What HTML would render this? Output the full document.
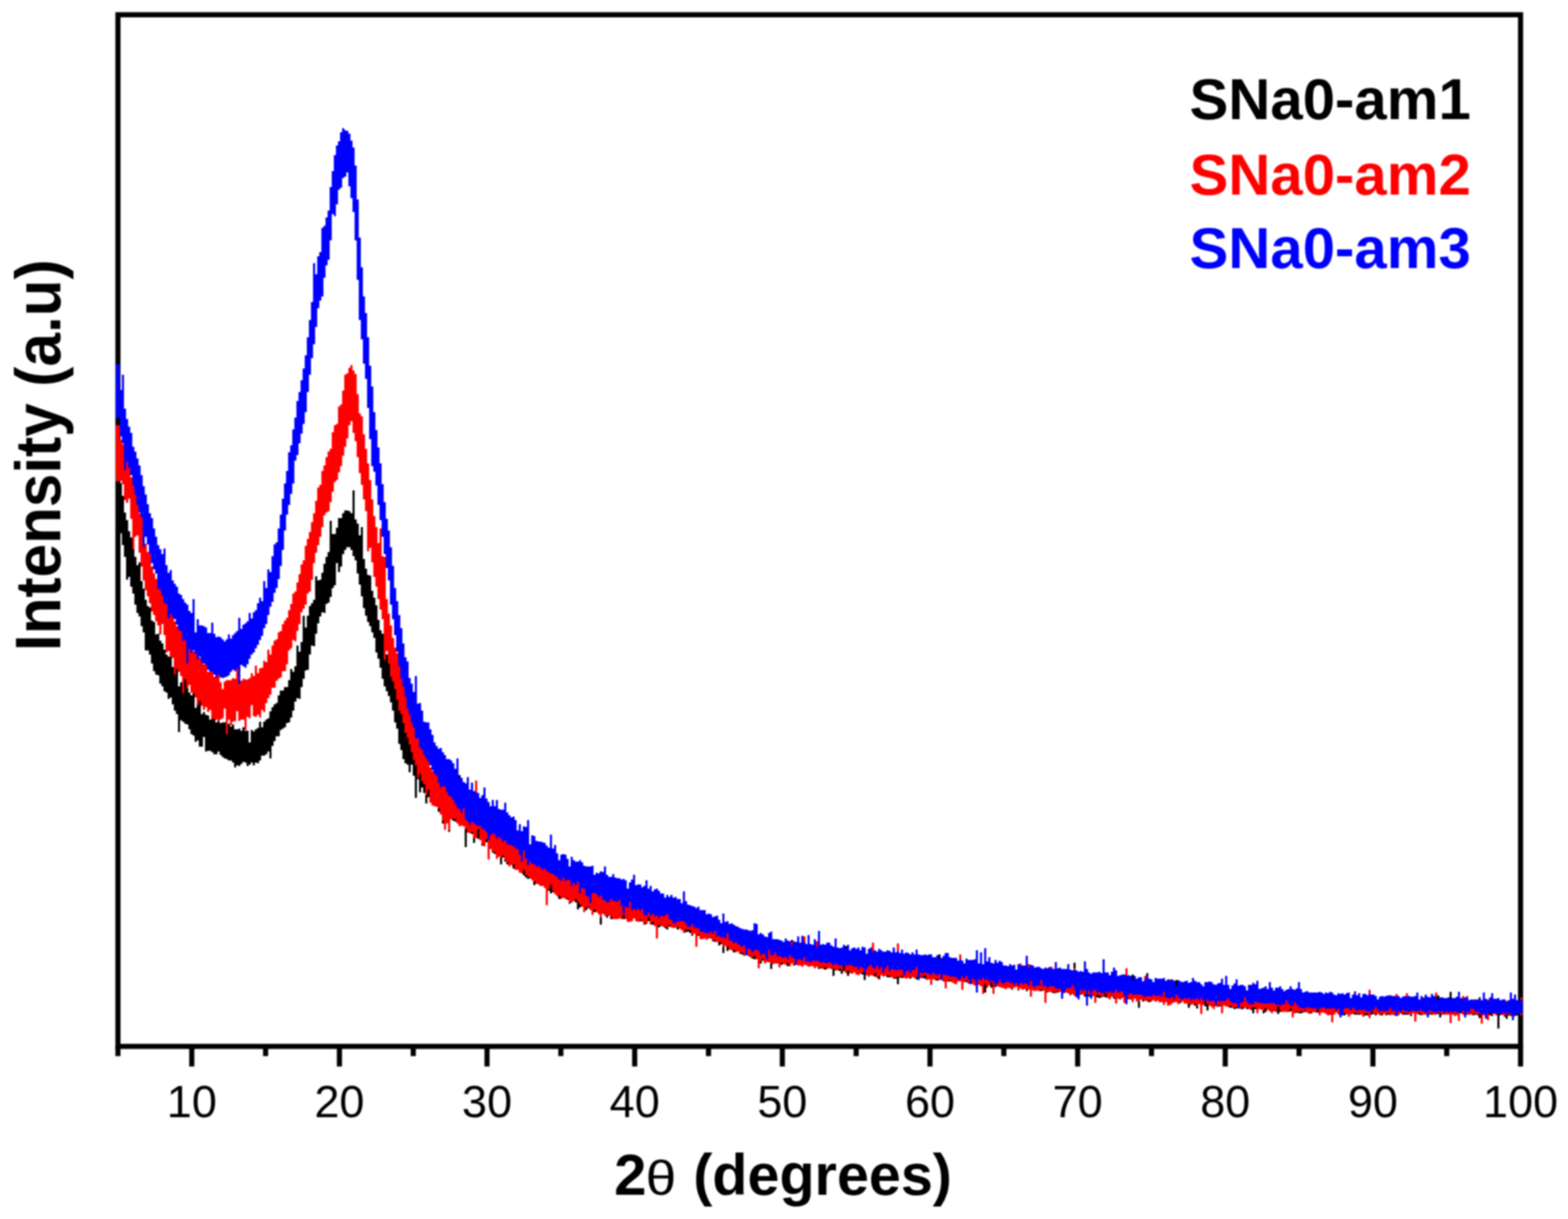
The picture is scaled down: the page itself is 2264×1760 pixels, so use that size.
<!DOCTYPE html>
<html><head><meta charset="utf-8"><title>XRD</title>
<style>
html,body{margin:0;padding:0;background:#fff;}
svg{display:block;filter:blur(1px);}
.t{font-family:"Liberation Sans",Arial,sans-serif;}
</style></head>
<body>
<svg width="2264" height="1760" viewBox="0 0 2264 1760">
<rect width="2264" height="1760" fill="#fff"/>
<rect x="170.3" y="21.3" width="2025.2" height="1489.5" fill="none" stroke="#000" stroke-width="7.4"/>
<g stroke="#000" stroke-width="7.4"><line x1="170.3" y1="1510.8" x2="170.3" y2="1524.8"/><line x1="276.9" y1="1510.8" x2="276.9" y2="1539.8"/><line x1="383.5" y1="1510.8" x2="383.5" y2="1524.8"/><line x1="490.1" y1="1510.8" x2="490.1" y2="1539.8"/><line x1="596.7" y1="1510.8" x2="596.7" y2="1524.8"/><line x1="703.2" y1="1510.8" x2="703.2" y2="1539.8"/><line x1="809.8" y1="1510.8" x2="809.8" y2="1524.8"/><line x1="916.4" y1="1510.8" x2="916.4" y2="1539.8"/><line x1="1023.0" y1="1510.8" x2="1023.0" y2="1524.8"/><line x1="1129.6" y1="1510.8" x2="1129.6" y2="1539.8"/><line x1="1236.2" y1="1510.8" x2="1236.2" y2="1524.8"/><line x1="1342.8" y1="1510.8" x2="1342.8" y2="1539.8"/><line x1="1449.4" y1="1510.8" x2="1449.4" y2="1524.8"/><line x1="1556.0" y1="1510.8" x2="1556.0" y2="1539.8"/><line x1="1662.6" y1="1510.8" x2="1662.6" y2="1524.8"/><line x1="1769.1" y1="1510.8" x2="1769.1" y2="1539.8"/><line x1="1875.7" y1="1510.8" x2="1875.7" y2="1524.8"/><line x1="1982.3" y1="1510.8" x2="1982.3" y2="1539.8"/><line x1="2088.9" y1="1510.8" x2="2088.9" y2="1524.8"/><line x1="2195.5" y1="1510.8" x2="2195.5" y2="1539.8"/></g>
<g shape-rendering="crispEdges">
<path fill="#000" d="M167.0 628.3h6.3V756.0h-6.3zM173.3 697.7h3.0V770.3h-3.0zM176.3 716.3h3.0V786.7h-3.0zM179.3 739.9h3.0V804.1h-3.0zM182.3 751.2h3.0V837.4h-3.0zM185.3 766.9h3.0V832.8h-3.0zM188.3 776.1h3.0V847.0h-3.0zM191.3 791.9h3.0V857.1h-3.0zM194.3 803.7h3.0V872.6h-3.0zM197.3 815.7h3.0V884.7h-3.0zM200.3 812.3h3.0V889.8h-3.0zM203.3 838.9h3.0V904.0h-3.0zM206.3 849.8h3.0V913.3h-3.0zM209.3 866.2h3.0V939.0h-3.0zM212.3 875.0h3.0V938.8h-3.0zM215.3 877.1h3.0V945.2h-3.0zM218.3 896.2h3.0V958.0h-3.0zM221.3 897.7h3.0V969.1h-3.0zM224.3 915.5h3.0V974.3h-3.0zM227.3 914.6h3.0V975.1h-3.0zM230.3 925.3h3.0V986.9h-3.0zM233.3 928.7h3.0V991.0h-3.0zM236.3 937.5h3.0V997.5h-3.0zM239.3 944.7h3.0V1000.4h-3.0zM242.3 947.8h3.0V1009.1h-3.0zM245.3 941.9h3.0V1006.7h-3.0zM248.3 963.1h3.0V1017.3h-3.0zM251.3 967.8h3.0V1026.2h-3.0zM254.3 957.7h3.0V1031.0h-3.0zM257.3 990.9h3.0V1056.7h-3.0zM260.3 985.0h3.0V1040.4h-3.0zM263.3 989.4h3.0V1041.5h-3.0zM266.3 969.2h3.0V1044.6h-3.0zM269.3 988.6h3.0V1045.9h-3.0zM272.3 999.5h3.0V1053.1h-3.0zM275.3 1004.0h3.0V1060.1h-3.0zM278.3 996.7h3.0V1062.4h-3.0zM281.3 1021.5h3.0V1071.4h-3.0zM284.3 1016.1h3.0V1069.2h-3.0zM287.3 1011.6h3.0V1077.5h-3.0zM290.3 1030.6h3.0V1078.2h-3.0zM293.3 1027.5h3.0V1063.7h-3.0zM296.3 1031.5h3.0V1084.6h-3.0zM299.3 1033.0h3.0V1084.0h-3.0zM302.3 1039.0h3.0V1083.7h-3.0zM305.3 1034.4h3.0V1086.4h-3.0zM308.3 1033.9h3.0V1088.6h-3.0zM311.3 1042.5h3.0V1088.7h-3.0zM314.3 1019.0h3.0V1085.3h-3.0zM317.3 1043.9h3.0V1090.2h-3.0zM320.3 1042.8h3.0V1092.9h-3.0zM323.3 1043.4h3.0V1095.4h-3.0zM326.3 1044.4h3.0V1096.0h-3.0zM329.3 1045.3h3.0V1098.2h-3.0zM332.3 1049.0h3.0V1097.6h-3.0zM335.3 1046.2h3.0V1100.6h-3.0zM338.3 1053.0h3.0V1108.4h-3.0zM341.3 1053.0h3.0V1104.7h-3.0zM344.3 1052.1h3.0V1106.4h-3.0zM347.3 1054.7h3.0V1102.5h-3.0zM350.3 1049.7h3.0V1100.1h-3.0zM353.3 1054.9h3.0V1100.5h-3.0zM356.3 1055.1h3.0V1106.1h-3.0zM359.3 1071.7h3.0V1104.3h-3.0zM362.3 1054.0h3.0V1100.8h-3.0zM365.3 1055.6h3.0V1105.1h-3.0zM368.3 1052.6h3.0V1100.9h-3.0zM371.3 1051.2h3.0V1102.1h-3.0zM374.3 1042.4h3.0V1098.4h-3.0zM377.3 1049.7h3.0V1091.0h-3.0zM380.3 1042.2h3.0V1091.4h-3.0zM383.3 1038.9h3.0V1089.4h-3.0zM386.3 1036.7h3.0V1084.5h-3.0zM389.3 1026.8h3.0V1095.0h-3.0zM392.3 1020.6h3.0V1077.0h-3.0zM395.3 1016.8h3.0V1070.3h-3.0zM398.3 1014.5h3.0V1062.6h-3.0zM401.3 1003.5h3.0V1063.0h-3.0zM404.3 997.1h3.0V1054.3h-3.0zM407.3 997.1h3.0V1052.0h-3.0zM410.3 991.8h3.0V1050.2h-3.0zM413.3 992.1h3.0V1043.8h-3.0zM416.3 981.9h3.0V1042.7h-3.0zM419.3 965.6h3.0V1035.9h-3.0zM422.3 970.3h3.0V1025.5h-3.0zM425.3 962.2h3.0V1013.1h-3.0zM428.3 931.6h3.0V1007.7h-3.0zM431.3 941.3h3.0V1008.9h-3.0zM434.3 927.3h3.0V992.2h-3.0zM437.3 889.3h3.0V979.6h-3.0zM440.3 906.4h3.0V967.6h-3.0zM443.3 888.9h3.0V967.2h-3.0zM446.3 874.9h3.0V944.6h-3.0zM449.3 871.4h3.0V932.1h-3.0zM452.3 865.6h3.0V933.1h-3.0zM455.3 832.4h3.0V915.4h-3.0zM458.3 837.8h3.0V899.9h-3.0zM461.3 836.5h3.0V889.9h-3.0zM464.3 827.1h3.0V884.3h-3.0zM467.3 813.8h3.0V884.5h-3.0zM470.3 804.1h3.0V871.5h-3.0zM473.3 796.9h3.0V870.3h-3.0zM476.3 751.7h3.0V861.6h-3.0zM479.3 771.3h3.0V849.2h-3.0zM482.3 770.8h3.0V844.8h-3.0zM485.3 761.6h3.0V813.2h-3.0zM488.3 747.7h3.0V825.7h-3.0zM491.3 747.7h3.0V818.1h-3.0zM494.3 740.6h3.0V800.2h-3.0zM497.3 737.4h3.0V793.7h-3.0zM500.3 736.6h3.0V789.8h-3.0zM503.3 737.8h3.0V790.2h-3.0zM506.3 740.7h3.0V793.7h-3.0zM509.3 707.7h3.0V803.1h-3.0zM512.3 750.1h3.0V809.3h-3.0zM515.3 755.9h3.0V827.7h-3.0zM518.3 773.4h3.0V844.0h-3.0zM521.3 761.2h3.0V861.3h-3.0zM524.3 807.3h3.0V878.0h-3.0zM527.3 820.6h3.0V889.0h-3.0zM530.3 830.0h3.0V897.6h-3.0zM533.3 831.2h3.0V904.4h-3.0zM536.3 853.1h3.0V912.6h-3.0zM539.3 862.6h3.0V921.2h-3.0zM542.3 874.1h3.0V941.5h-3.0zM545.3 894.7h3.0V950.8h-3.0zM548.3 909.7h3.0V964.0h-3.0zM551.3 914.6h3.0V980.3h-3.0zM554.3 926.0h3.0V990.9h-3.0zM557.3 944.9h3.0V997.9h-3.0zM560.3 953.3h3.0V1004.6h-3.0zM563.3 960.2h3.0V1013.9h-3.0zM566.3 968.1h3.0V1026.1h-3.0zM569.3 979.8h3.0V1043.1h-3.0zM572.3 990.2h3.0V1051.7h-3.0zM575.3 1007.5h3.0V1074.3h-3.0zM578.3 1022.7h3.0V1082.5h-3.0zM581.3 1035.6h3.0V1095.8h-3.0zM584.3 1045.9h3.0V1101.8h-3.0zM587.3 1059.3h3.0V1103.6h-3.0zM590.3 1064.4h3.0V1115.1h-3.0zM593.3 1058.5h3.0V1104.4h-3.0zM596.3 1069.3h3.0V1120.4h-3.0zM599.3 1048.3h3.0V1152.0h-3.0zM602.3 1078.3h3.0V1124.9h-3.0zM605.3 1087.1h3.0V1143.9h-3.0zM608.3 1086.7h3.0V1137.2h-3.0zM611.3 1082.5h3.0V1144.5h-3.0zM614.3 1093.5h3.0V1159.9h-3.0zM617.3 1090.8h3.0V1150.6h-3.0zM620.3 1114.3h3.0V1153.6h-3.0zM623.3 1112.5h3.0V1160.6h-3.0zM626.3 1120.0h3.0V1163.9h-3.0zM629.3 1120.7h3.0V1165.3h-3.0zM632.3 1124.1h3.0V1171.7h-3.0zM635.3 1124.3h3.0V1171.6h-3.0zM638.3 1132.9h3.0V1188.5h-3.0zM641.3 1108.5h3.0V1173.6h-3.0zM644.3 1130.9h3.0V1179.1h-3.0zM647.3 1136.4h3.0V1200.5h-3.0zM650.3 1136.9h3.0V1182.5h-3.0zM653.3 1142.1h3.0V1184.8h-3.0zM656.3 1142.2h3.0V1185.5h-3.0zM659.3 1143.8h3.0V1187.8h-3.0zM662.3 1118.5h3.0V1189.5h-3.0zM665.3 1143.1h3.0V1184.6h-3.0zM668.3 1153.5h3.0V1191.1h-3.0zM671.3 1150.8h3.0V1223.3h-3.0zM674.3 1159.3h3.0V1199.3h-3.0zM677.3 1161.8h3.0V1199.8h-3.0zM680.3 1140.2h3.0V1203.5h-3.0zM683.3 1166.9h3.0V1216.6h-3.0zM686.3 1170.9h3.0V1207.3h-3.0zM689.3 1173.6h3.0V1211.4h-3.0zM692.3 1155.6h3.0V1212.1h-3.0zM695.3 1176.3h3.0V1221.4h-3.0zM698.3 1178.3h3.0V1221.8h-3.0zM701.3 1164.7h3.0V1215.8h-3.0zM704.3 1184.1h3.0V1223.8h-3.0zM707.3 1183.8h3.0V1224.4h-3.0zM710.3 1183.7h3.0V1231.1h-3.0zM713.3 1190.2h3.0V1233.3h-3.0zM716.3 1176.7h3.0V1232.9h-3.0zM719.3 1197.4h3.0V1234.9h-3.0zM722.3 1207.5h3.0V1247.6h-3.0zM725.3 1198.9h3.0V1238.4h-3.0zM728.3 1202.2h3.0V1243.7h-3.0zM731.3 1204.3h3.0V1247.6h-3.0zM734.3 1213.2h3.0V1246.0h-3.0zM737.3 1213.5h3.0V1248.6h-3.0zM740.3 1214.0h3.0V1253.6h-3.0zM743.3 1211.1h3.0V1255.3h-3.0zM746.3 1219.0h3.0V1255.6h-3.0zM749.3 1220.1h3.0V1258.4h-3.0zM752.3 1224.2h3.0V1259.0h-3.0zM755.3 1226.5h3.0V1264.2h-3.0zM758.3 1227.1h3.0V1266.9h-3.0zM761.3 1230.2h3.0V1269.3h-3.0zM764.3 1237.4h3.0V1268.0h-3.0zM767.3 1233.7h3.0V1270.3h-3.0zM770.3 1240.3h3.0V1278.3h-3.0zM773.3 1238.0h3.0V1273.1h-3.0zM776.3 1241.4h3.0V1277.1h-3.0zM779.3 1241.1h3.0V1279.1h-3.0zM782.3 1248.4h3.0V1277.7h-3.0zM785.3 1244.1h3.0V1282.0h-3.0zM788.3 1248.4h3.0V1284.4h-3.0zM791.3 1251.2h3.0V1285.5h-3.0zM794.3 1249.7h3.0V1289.5h-3.0zM797.3 1252.8h3.0V1288.4h-3.0zM800.3 1237.0h3.0V1289.8h-3.0zM803.3 1269.0h3.0V1292.6h-3.0zM806.3 1260.5h3.0V1298.1h-3.0zM809.3 1253.7h3.0V1293.9h-3.0zM812.3 1266.6h3.0V1295.9h-3.0zM815.3 1265.0h3.0V1295.7h-3.0zM818.3 1264.3h3.0V1299.1h-3.0zM821.3 1264.0h3.0V1305.4h-3.0zM824.3 1266.3h3.0V1302.6h-3.0zM827.3 1268.2h3.0V1293.2h-3.0zM830.3 1269.6h3.0V1302.9h-3.0zM833.3 1274.6h3.0V1312.7h-3.0zM836.3 1271.7h3.0V1309.7h-3.0zM839.3 1275.8h3.0V1309.2h-3.0zM842.3 1277.1h3.0V1309.1h-3.0zM845.3 1273.2h3.0V1313.7h-3.0zM848.3 1277.5h3.0V1310.6h-3.0zM851.3 1279.6h3.0V1310.9h-3.0zM854.3 1280.4h3.0V1307.0h-3.0zM857.3 1282.6h3.0V1317.1h-3.0zM860.3 1285.8h3.0V1317.4h-3.0zM863.3 1284.8h3.0V1315.5h-3.0zM866.3 1283.7h3.0V1334.5h-3.0zM869.3 1286.5h3.0V1319.3h-3.0zM872.3 1290.1h3.0V1322.1h-3.0zM875.3 1280.1h3.0V1324.7h-3.0zM878.3 1292.1h3.0V1322.1h-3.0zM881.3 1293.9h3.0V1326.5h-3.0zM884.3 1292.7h3.0V1322.9h-3.0zM887.3 1288.2h3.0V1322.6h-3.0zM890.3 1280.0h3.0V1323.4h-3.0zM893.3 1296.4h3.0V1325.1h-3.0zM896.3 1294.4h3.0V1326.4h-3.0zM899.3 1294.3h3.0V1326.5h-3.0zM902.3 1294.1h3.0V1325.9h-3.0zM905.3 1296.2h3.0V1324.5h-3.0zM908.3 1288.2h3.0V1328.1h-3.0zM911.3 1298.7h3.0V1328.7h-3.0zM914.3 1298.0h3.0V1326.0h-3.0zM917.3 1299.1h3.0V1329.4h-3.0zM920.3 1295.2h3.0V1328.5h-3.0zM923.3 1299.3h3.0V1330.2h-3.0zM926.3 1299.5h3.0V1329.4h-3.0zM929.3 1301.5h3.0V1334.7h-3.0zM932.3 1291.4h3.0V1333.6h-3.0zM935.3 1300.9h3.0V1329.9h-3.0zM938.3 1314.6h3.0V1329.6h-3.0zM941.3 1302.0h3.0V1335.3h-3.0zM944.3 1302.4h3.0V1325.1h-3.0zM947.3 1305.4h3.0V1335.7h-3.0zM950.3 1307.1h3.0V1339.3h-3.0zM953.3 1313.1h3.0V1336.7h-3.0zM956.3 1309.3h3.0V1336.1h-3.0zM959.3 1305.9h3.0V1340.3h-3.0zM962.3 1308.0h3.0V1341.8h-3.0zM965.3 1312.7h3.0V1337.8h-3.0zM968.3 1310.0h3.0V1337.9h-3.0zM971.3 1310.4h3.0V1339.7h-3.0zM974.3 1311.1h3.0V1338.5h-3.0zM977.3 1311.5h3.0V1342.0h-3.0zM980.3 1312.9h3.0V1341.2h-3.0zM983.3 1313.2h3.0V1341.6h-3.0zM986.3 1316.0h3.0V1344.5h-3.0zM989.3 1319.9h3.0V1345.5h-3.0zM992.3 1313.9h3.0V1345.0h-3.0zM995.3 1317.6h3.0V1346.6h-3.0zM998.3 1319.5h3.0V1351.3h-3.0zM1001.3 1312.4h3.0V1347.2h-3.0zM1004.3 1320.6h3.0V1342.7h-3.0zM1007.3 1315.7h3.0V1351.0h-3.0zM1010.3 1326.1h3.0V1351.7h-3.0zM1013.3 1327.8h3.0V1354.6h-3.0zM1016.3 1330.6h3.0V1354.0h-3.0zM1019.3 1328.7h3.0V1355.7h-3.0zM1022.3 1329.2h3.0V1355.4h-3.0zM1025.3 1319.8h3.0V1355.3h-3.0zM1028.3 1324.4h3.0V1358.8h-3.0zM1031.3 1338.9h3.0V1359.7h-3.0zM1034.3 1338.0h3.0V1359.7h-3.0zM1037.3 1335.5h3.0V1364.5h-3.0zM1040.3 1340.9h3.0V1362.5h-3.0zM1043.3 1331.7h3.0V1376.0h-3.0zM1046.3 1343.9h3.0V1366.0h-3.0zM1049.3 1345.9h3.0V1372.7h-3.0zM1052.3 1347.8h3.0V1367.9h-3.0zM1055.3 1345.5h3.0V1371.2h-3.0zM1058.3 1351.9h3.0V1374.5h-3.0zM1061.3 1351.8h3.0V1375.2h-3.0zM1064.3 1352.1h3.0V1373.7h-3.0zM1067.3 1353.0h3.0V1377.2h-3.0zM1070.3 1352.2h3.0V1377.7h-3.0zM1073.3 1352.9h3.0V1379.7h-3.0zM1076.3 1356.6h3.0V1378.0h-3.0zM1079.3 1355.8h3.0V1380.1h-3.0zM1082.3 1364.2h3.0V1381.9h-3.0zM1085.3 1359.2h3.0V1383.5h-3.0zM1088.3 1360.3h3.0V1385.0h-3.0zM1091.3 1360.7h3.0V1385.3h-3.0zM1094.3 1362.5h3.0V1386.7h-3.0zM1097.3 1363.8h3.0V1390.9h-3.0zM1100.3 1364.5h3.0V1387.2h-3.0zM1103.3 1365.1h3.0V1389.9h-3.0zM1106.3 1367.2h3.0V1388.6h-3.0zM1109.3 1368.7h3.0V1389.2h-3.0zM1112.3 1366.9h3.0V1399.4h-3.0zM1115.3 1366.6h3.0V1389.9h-3.0zM1118.3 1369.1h3.0V1390.9h-3.0zM1121.3 1369.8h3.0V1390.9h-3.0zM1124.3 1369.2h3.0V1390.6h-3.0zM1127.3 1369.9h3.0V1393.0h-3.0zM1130.3 1369.3h3.0V1390.3h-3.0zM1133.3 1369.5h3.0V1392.2h-3.0zM1136.3 1369.7h3.0V1394.7h-3.0zM1139.3 1359.2h3.0V1392.3h-3.0zM1142.3 1357.4h3.0V1385.8h-3.0zM1145.3 1368.3h3.0V1393.6h-3.0zM1148.3 1371.4h3.0V1393.3h-3.0zM1151.3 1372.0h3.0V1394.1h-3.0zM1154.3 1367.8h3.0V1393.0h-3.0zM1157.3 1371.6h3.0V1393.7h-3.0zM1160.3 1370.1h3.0V1393.3h-3.0zM1163.3 1369.3h3.0V1393.4h-3.0zM1166.3 1372.8h3.0V1396.2h-3.0zM1169.3 1371.7h3.0V1393.6h-3.0zM1172.3 1371.6h3.0V1392.4h-3.0zM1175.3 1374.3h3.0V1395.5h-3.0zM1178.3 1372.6h3.0V1396.0h-3.0zM1181.3 1373.8h3.0V1399.3h-3.0zM1184.3 1373.9h3.0V1397.6h-3.0zM1187.3 1375.3h3.0V1397.6h-3.0zM1190.3 1374.3h3.0V1399.6h-3.0zM1193.3 1373.3h3.0V1399.2h-3.0zM1196.3 1378.1h3.0V1396.8h-3.0zM1199.3 1375.4h3.0V1398.5h-3.0zM1202.3 1369.3h3.0V1408.8h-3.0zM1205.3 1377.7h3.0V1400.5h-3.0zM1208.3 1376.6h3.0V1394.3h-3.0zM1211.3 1377.0h3.0V1401.6h-3.0zM1214.3 1377.8h3.0V1406.2h-3.0zM1217.3 1379.5h3.0V1401.5h-3.0zM1220.3 1365.8h3.0V1403.8h-3.0zM1223.3 1380.3h3.0V1409.3h-3.0zM1226.3 1382.3h3.0V1404.7h-3.0zM1229.3 1382.7h3.0V1403.4h-3.0zM1232.3 1382.1h3.0V1403.7h-3.0zM1235.3 1383.2h3.0V1406.3h-3.0zM1238.3 1375.2h3.0V1406.4h-3.0zM1241.3 1384.6h3.0V1405.6h-3.0zM1244.3 1383.3h3.0V1407.1h-3.0zM1247.3 1385.8h3.0V1414.5h-3.0zM1250.3 1384.4h3.0V1407.9h-3.0zM1253.3 1386.6h3.0V1410.1h-3.0zM1256.3 1386.7h3.0V1405.1h-3.0zM1259.3 1386.5h3.0V1403.1h-3.0zM1262.3 1387.1h3.0V1409.5h-3.0zM1265.3 1385.9h3.0V1407.7h-3.0zM1268.3 1386.6h3.0V1414.1h-3.0zM1271.3 1386.4h3.0V1406.5h-3.0zM1274.3 1386.4h3.0V1410.2h-3.0zM1277.3 1384.9h3.0V1409.3h-3.0zM1280.3 1388.6h3.0V1410.7h-3.0zM1283.3 1386.3h3.0V1410.5h-3.0zM1286.3 1388.0h3.0V1409.2h-3.0zM1289.3 1387.0h3.0V1413.3h-3.0zM1292.3 1388.6h3.0V1413.4h-3.0zM1295.3 1386.3h3.0V1421.0h-3.0zM1298.3 1386.7h3.0V1409.9h-3.0zM1301.3 1387.7h3.0V1411.6h-3.0zM1304.3 1386.7h3.0V1411.0h-3.0zM1307.3 1387.7h3.0V1410.1h-3.0zM1310.3 1389.2h3.0V1411.2h-3.0zM1313.3 1384.2h3.0V1412.7h-3.0zM1316.3 1390.9h3.0V1409.9h-3.0zM1319.3 1389.4h3.0V1410.4h-3.0zM1322.3 1388.5h3.0V1413.5h-3.0zM1325.3 1388.8h3.0V1410.6h-3.0zM1328.3 1390.6h3.0V1412.3h-3.0zM1331.3 1390.5h3.0V1411.8h-3.0zM1334.3 1390.6h3.0V1413.1h-3.0zM1337.3 1390.7h3.0V1414.0h-3.0zM1340.3 1390.9h3.0V1413.1h-3.0zM1343.3 1391.4h3.0V1422.3h-3.0zM1346.3 1391.6h3.0V1412.8h-3.0zM1349.3 1388.6h3.0V1414.8h-3.0zM1352.3 1392.7h3.0V1416.1h-3.0zM1355.3 1378.2h3.0V1413.3h-3.0zM1358.3 1390.8h3.0V1413.0h-3.0zM1361.3 1389.3h3.0V1416.8h-3.0zM1364.3 1392.6h3.0V1414.3h-3.0zM1367.3 1392.6h3.0V1417.0h-3.0zM1370.3 1392.5h3.0V1417.1h-3.0zM1373.3 1398.7h3.0V1417.9h-3.0zM1376.3 1392.0h3.0V1420.2h-3.0zM1379.3 1397.7h3.0V1420.9h-3.0zM1382.3 1393.5h3.0V1416.7h-3.0zM1385.3 1397.1h3.0V1416.0h-3.0zM1388.3 1397.3h3.0V1419.1h-3.0zM1391.3 1395.1h3.0V1416.7h-3.0zM1394.3 1395.3h3.0V1417.9h-3.0zM1397.3 1395.1h3.0V1419.7h-3.0zM1400.3 1394.5h3.0V1420.6h-3.0zM1403.3 1401.0h3.0V1420.6h-3.0zM1406.3 1398.5h3.0V1420.4h-3.0zM1409.3 1399.5h3.0V1420.9h-3.0zM1412.3 1405.6h3.0V1421.3h-3.0zM1415.3 1399.3h3.0V1421.5h-3.0zM1418.3 1402.6h3.0V1421.2h-3.0zM1421.3 1400.7h3.0V1433.0h-3.0zM1424.3 1399.3h3.0V1423.0h-3.0zM1427.3 1400.1h3.0V1422.1h-3.0zM1430.3 1403.5h3.0V1425.5h-3.0zM1433.3 1401.8h3.0V1423.8h-3.0zM1436.3 1392.7h3.0V1425.1h-3.0zM1439.3 1400.2h3.0V1420.5h-3.0zM1442.3 1401.0h3.0V1424.1h-3.0zM1445.3 1402.2h3.0V1425.2h-3.0zM1448.3 1405.0h3.0V1424.8h-3.0zM1451.3 1406.9h3.0V1427.8h-3.0zM1454.3 1404.5h3.0V1425.6h-3.0zM1457.3 1404.5h3.0V1426.9h-3.0zM1460.3 1404.9h3.0V1428.5h-3.0zM1463.3 1406.2h3.0V1426.2h-3.0zM1466.3 1404.0h3.0V1425.0h-3.0zM1469.3 1405.8h3.0V1429.7h-3.0zM1472.3 1398.3h3.0V1425.4h-3.0zM1475.3 1403.9h3.0V1424.3h-3.0zM1478.3 1407.0h3.0V1427.4h-3.0zM1481.3 1406.8h3.0V1430.8h-3.0zM1484.3 1407.4h3.0V1428.9h-3.0zM1487.3 1406.8h3.0V1428.2h-3.0zM1490.3 1408.5h3.0V1428.3h-3.0zM1493.3 1407.2h3.0V1426.1h-3.0zM1496.3 1407.5h3.0V1430.0h-3.0zM1499.3 1408.4h3.0V1423.7h-3.0zM1502.3 1403.1h3.0V1430.8h-3.0zM1505.3 1408.7h3.0V1429.9h-3.0zM1508.3 1409.7h3.0V1432.7h-3.0zM1511.3 1407.5h3.0V1432.7h-3.0zM1514.3 1407.2h3.0V1432.2h-3.0zM1517.3 1409.1h3.0V1432.1h-3.0zM1520.3 1411.7h3.0V1433.7h-3.0zM1523.3 1410.1h3.0V1433.1h-3.0zM1526.3 1411.3h3.0V1432.6h-3.0zM1529.3 1413.2h3.0V1430.8h-3.0zM1532.3 1411.4h3.0V1431.8h-3.0zM1535.3 1411.9h3.0V1429.7h-3.0zM1538.3 1412.2h3.0V1431.7h-3.0zM1541.3 1412.3h3.0V1433.8h-3.0zM1544.3 1404.1h3.0V1436.8h-3.0zM1547.3 1411.9h3.0V1434.5h-3.0zM1550.3 1389.8h3.0V1434.5h-3.0zM1553.3 1414.2h3.0V1438.1h-3.0zM1556.3 1412.0h3.0V1434.9h-3.0zM1559.3 1415.8h3.0V1436.1h-3.0zM1562.3 1417.8h3.0V1433.8h-3.0zM1565.3 1413.6h3.0V1438.8h-3.0zM1568.3 1411.8h3.0V1436.7h-3.0zM1571.3 1415.0h3.0V1438.7h-3.0zM1574.3 1417.2h3.0V1436.6h-3.0zM1577.3 1416.0h3.0V1438.2h-3.0zM1580.3 1414.8h3.0V1439.3h-3.0zM1583.3 1416.1h3.0V1440.4h-3.0zM1586.3 1416.3h3.0V1441.0h-3.0zM1589.3 1417.8h3.0V1440.4h-3.0zM1592.3 1417.0h3.0V1439.3h-3.0zM1595.3 1417.6h3.0V1439.9h-3.0zM1598.3 1418.3h3.0V1441.2h-3.0zM1601.3 1416.2h3.0V1437.7h-3.0zM1604.3 1419.3h3.0V1438.9h-3.0zM1607.3 1416.0h3.0V1442.1h-3.0zM1610.3 1415.8h3.0V1442.4h-3.0zM1613.3 1423.0h3.0V1441.0h-3.0zM1616.3 1417.9h3.0V1442.7h-3.0zM1619.3 1411.9h3.0V1440.1h-3.0zM1622.3 1420.4h3.0V1440.6h-3.0zM1625.3 1420.9h3.0V1442.8h-3.0zM1628.3 1420.4h3.0V1437.8h-3.0zM1631.3 1418.2h3.0V1443.4h-3.0zM1634.3 1406.5h3.0V1442.0h-3.0zM1637.3 1421.5h3.0V1437.6h-3.0zM1640.3 1422.8h3.0V1444.3h-3.0zM1643.3 1423.3h3.0V1455.0h-3.0zM1646.3 1422.2h3.0V1443.4h-3.0zM1649.3 1417.4h3.0V1446.3h-3.0zM1652.3 1422.8h3.0V1443.2h-3.0zM1655.3 1405.3h3.0V1446.1h-3.0zM1658.3 1415.3h3.0V1447.1h-3.0zM1661.3 1420.8h3.0V1445.8h-3.0zM1664.3 1421.5h3.0V1444.0h-3.0zM1667.3 1428.2h3.0V1446.1h-3.0zM1670.3 1423.1h3.0V1445.1h-3.0zM1673.3 1424.6h3.0V1446.1h-3.0zM1676.3 1423.9h3.0V1446.3h-3.0zM1679.3 1425.7h3.0V1450.5h-3.0zM1682.3 1424.3h3.0V1445.2h-3.0zM1685.3 1424.6h3.0V1446.7h-3.0zM1688.3 1422.4h3.0V1446.7h-3.0zM1691.3 1426.1h3.0V1448.1h-3.0zM1694.3 1425.0h3.0V1445.1h-3.0zM1697.3 1414.5h3.0V1447.0h-3.0zM1700.3 1426.6h3.0V1446.6h-3.0zM1703.3 1425.9h3.0V1448.0h-3.0zM1706.3 1423.7h3.0V1446.3h-3.0zM1709.3 1428.0h3.0V1447.5h-3.0zM1712.3 1427.8h3.0V1444.0h-3.0zM1715.3 1429.4h3.0V1454.7h-3.0zM1718.3 1427.8h3.0V1449.3h-3.0zM1721.3 1428.8h3.0V1448.7h-3.0zM1724.3 1427.8h3.0V1452.4h-3.0zM1727.3 1427.8h3.0V1455.5h-3.0zM1730.3 1421.7h3.0V1447.1h-3.0zM1733.3 1430.2h3.0V1450.7h-3.0zM1736.3 1432.5h3.0V1450.4h-3.0zM1739.3 1432.2h3.0V1453.0h-3.0zM1742.3 1428.9h3.0V1459.1h-3.0zM1745.3 1430.2h3.0V1450.5h-3.0zM1748.3 1429.2h3.0V1450.5h-3.0zM1751.3 1429.7h3.0V1452.7h-3.0zM1754.3 1438.4h3.0V1452.5h-3.0zM1757.3 1434.2h3.0V1451.4h-3.0zM1760.3 1432.5h3.0V1452.8h-3.0zM1763.3 1433.5h3.0V1451.9h-3.0zM1766.3 1431.5h3.0V1450.2h-3.0zM1769.3 1414.6h3.0V1452.2h-3.0zM1772.3 1431.2h3.0V1454.1h-3.0zM1775.3 1438.6h3.0V1455.2h-3.0zM1778.3 1434.4h3.0V1454.7h-3.0zM1781.3 1432.2h3.0V1457.1h-3.0zM1784.3 1431.5h3.0V1455.5h-3.0zM1787.3 1434.0h3.0V1454.7h-3.0zM1790.3 1434.7h3.0V1455.1h-3.0zM1793.3 1434.5h3.0V1456.7h-3.0zM1796.3 1434.3h3.0V1454.8h-3.0zM1799.3 1433.5h3.0V1457.3h-3.0zM1802.3 1421.9h3.0V1457.4h-3.0zM1805.3 1435.2h3.0V1458.0h-3.0zM1808.3 1436.5h3.0V1463.2h-3.0zM1811.3 1434.9h3.0V1456.5h-3.0zM1814.3 1436.4h3.0V1458.6h-3.0zM1817.3 1438.7h3.0V1457.1h-3.0zM1820.3 1438.3h3.0V1457.4h-3.0zM1823.3 1435.8h3.0V1463.2h-3.0zM1826.3 1437.3h3.0V1461.0h-3.0zM1829.3 1437.8h3.0V1458.4h-3.0zM1832.3 1438.6h3.0V1460.2h-3.0zM1835.3 1437.6h3.0V1458.3h-3.0zM1838.3 1440.1h3.0V1459.5h-3.0zM1841.3 1432.2h3.0V1459.1h-3.0zM1844.3 1439.6h3.0V1463.8h-3.0zM1847.3 1439.1h3.0V1460.6h-3.0zM1850.3 1441.5h3.0V1459.5h-3.0zM1853.3 1440.1h3.0V1455.8h-3.0zM1856.3 1439.7h3.0V1456.3h-3.0zM1859.3 1442.9h3.0V1460.8h-3.0zM1862.3 1437.5h3.0V1460.0h-3.0zM1865.3 1445.1h3.0V1464.7h-3.0zM1868.3 1442.3h3.0V1461.9h-3.0zM1871.3 1441.7h3.0V1461.9h-3.0zM1874.3 1443.1h3.0V1462.7h-3.0zM1877.3 1441.5h3.0V1463.0h-3.0zM1880.3 1441.3h3.0V1461.6h-3.0zM1883.3 1440.3h3.0V1461.0h-3.0zM1886.3 1440.2h3.0V1462.1h-3.0zM1889.3 1442.2h3.0V1461.3h-3.0zM1892.3 1441.8h3.0V1462.7h-3.0zM1895.3 1441.3h3.0V1459.8h-3.0zM1898.3 1440.3h3.0V1461.7h-3.0zM1901.3 1444.0h3.0V1461.8h-3.0zM1904.3 1442.2h3.0V1460.6h-3.0zM1907.3 1443.3h3.0V1461.5h-3.0zM1910.3 1441.7h3.0V1461.6h-3.0zM1913.3 1441.9h3.0V1463.0h-3.0zM1916.3 1443.4h3.0V1464.0h-3.0zM1919.3 1443.7h3.0V1464.7h-3.0zM1922.3 1441.5h3.0V1460.3h-3.0zM1925.3 1440.7h3.0V1465.1h-3.0zM1928.3 1443.3h3.0V1461.3h-3.0zM1931.3 1442.0h3.0V1462.1h-3.0zM1934.3 1440.5h3.0V1465.9h-3.0zM1937.3 1444.5h3.0V1463.3h-3.0zM1940.3 1441.5h3.0V1466.1h-3.0zM1943.3 1444.2h3.0V1464.1h-3.0zM1946.3 1444.3h3.0V1462.4h-3.0zM1949.3 1443.0h3.0V1463.7h-3.0zM1952.3 1444.6h3.0V1462.9h-3.0zM1955.3 1443.2h3.0V1464.7h-3.0zM1958.3 1444.7h3.0V1464.5h-3.0zM1961.3 1444.3h3.0V1465.1h-3.0zM1964.3 1444.3h3.0V1462.9h-3.0zM1967.3 1444.8h3.0V1464.7h-3.0zM1970.3 1445.3h3.0V1465.7h-3.0zM1973.3 1442.5h3.0V1465.5h-3.0zM1976.3 1443.8h3.0V1465.0h-3.0zM1979.3 1439.2h3.0V1465.3h-3.0zM1982.3 1445.1h3.0V1464.0h-3.0zM1985.3 1446.1h3.0V1465.7h-3.0zM1988.3 1444.7h3.0V1464.4h-3.0zM1991.3 1444.9h3.0V1464.7h-3.0zM1994.3 1445.5h3.0V1465.6h-3.0zM1997.3 1446.5h3.0V1464.0h-3.0zM2000.3 1445.8h3.0V1465.6h-3.0zM2003.3 1444.0h3.0V1465.4h-3.0zM2006.3 1445.3h3.0V1464.3h-3.0zM2009.3 1444.3h3.0V1464.9h-3.0zM2012.3 1446.0h3.0V1465.8h-3.0zM2015.3 1444.5h3.0V1464.7h-3.0zM2018.3 1446.2h3.0V1464.0h-3.0zM2021.3 1446.1h3.0V1462.9h-3.0zM2024.3 1443.7h3.0V1464.8h-3.0zM2027.3 1443.1h3.0V1464.8h-3.0zM2030.3 1445.7h3.0V1465.2h-3.0zM2033.3 1445.6h3.0V1464.9h-3.0zM2036.3 1443.2h3.0V1466.8h-3.0zM2039.3 1449.2h3.0V1459.5h-3.0zM2042.3 1446.1h3.0V1466.2h-3.0zM2045.3 1445.9h3.0V1464.2h-3.0zM2048.3 1444.8h3.0V1464.9h-3.0zM2051.3 1444.3h3.0V1465.5h-3.0zM2054.3 1445.2h3.0V1462.8h-3.0zM2057.3 1443.2h3.0V1463.6h-3.0zM2060.3 1444.0h3.0V1466.3h-3.0zM2063.3 1445.8h3.0V1464.6h-3.0zM2066.3 1445.1h3.0V1465.2h-3.0zM2069.3 1444.6h3.0V1465.4h-3.0zM2072.3 1446.0h3.0V1464.6h-3.0zM2075.3 1437.2h3.0V1463.5h-3.0zM2078.3 1446.1h3.0V1469.1h-3.0zM2081.3 1444.6h3.0V1463.5h-3.0zM2084.3 1445.3h3.0V1465.1h-3.0zM2087.3 1445.1h3.0V1464.5h-3.0zM2090.3 1446.8h3.0V1464.8h-3.0zM2093.3 1431.6h3.0V1464.8h-3.0zM2096.3 1444.0h3.0V1463.9h-3.0zM2099.3 1446.3h3.0V1465.6h-3.0zM2102.3 1447.7h3.0V1466.1h-3.0zM2105.3 1444.5h3.0V1463.7h-3.0zM2108.3 1445.6h3.0V1462.9h-3.0zM2111.3 1443.6h3.0V1464.7h-3.0zM2114.3 1445.2h3.0V1463.7h-3.0zM2117.3 1445.9h3.0V1464.7h-3.0zM2120.3 1447.0h3.0V1461.1h-3.0zM2123.3 1445.2h3.0V1464.5h-3.0zM2126.3 1445.6h3.0V1466.0h-3.0zM2129.3 1451.4h3.0V1464.6h-3.0zM2132.3 1445.8h3.0V1465.5h-3.0zM2135.3 1440.3h3.0V1469.7h-3.0zM2138.3 1446.2h3.0V1464.4h-3.0zM2141.3 1446.4h3.0V1464.4h-3.0zM2144.3 1445.4h3.0V1463.1h-3.0zM2147.3 1447.8h3.0V1463.5h-3.0zM2150.3 1443.3h3.0V1465.7h-3.0zM2153.3 1446.0h3.0V1466.8h-3.0zM2156.3 1447.4h3.0V1464.4h-3.0zM2159.3 1445.5h3.0V1465.7h-3.0zM2162.3 1446.8h3.0V1485.4h-3.0zM2165.3 1446.8h3.0V1462.9h-3.0zM2168.3 1449.1h3.0V1464.7h-3.0zM2171.3 1447.7h3.0V1467.8h-3.0zM2174.3 1445.0h3.0V1471.2h-3.0zM2177.3 1446.6h3.0V1466.1h-3.0zM2180.3 1446.9h3.0V1466.8h-3.0zM2183.3 1448.3h3.0V1462.3h-3.0zM2186.3 1453.8h3.0V1467.2h-3.0zM2189.3 1446.6h3.0V1466.2h-3.0zM2192.3 1446.0h3.0V1467.6h-3.0zM2195.3 1446.9h2.7V1474.0h-2.7z"/>
<path fill="#f00" d="M167.0 613.6h6.3V694.5h-6.3zM173.3 635.4h3.0V694.2h-3.0zM176.3 641.1h3.0V699.4h-3.0zM179.3 644.5h3.0V721.5h-3.0zM182.3 658.3h3.0V726.1h-3.0zM185.3 674.9h3.0V720.3h-3.0zM188.3 688.5h3.0V748.6h-3.0zM191.3 697.4h3.0V792.8h-3.0zM194.3 713.6h3.0V775.4h-3.0zM197.3 701.8h3.0V773.2h-3.0zM200.3 740.6h3.0V797.6h-3.0zM203.3 740.0h3.0V818.3h-3.0zM206.3 761.7h3.0V838.1h-3.0zM209.3 785.0h3.0V852.3h-3.0zM212.3 796.9h3.0V861.4h-3.0zM215.3 777.8h3.0V870.5h-3.0zM218.3 818.3h3.0V882.8h-3.0zM221.3 828.4h3.0V887.8h-3.0zM224.3 836.3h3.0V897.3h-3.0zM227.3 845.2h3.0V903.1h-3.0zM230.3 849.1h3.0V916.4h-3.0zM233.3 857.5h3.0V901.2h-3.0zM236.3 861.7h3.0V916.9h-3.0zM239.3 871.7h3.0V942.0h-3.0zM242.3 877.4h3.0V939.9h-3.0zM245.3 886.1h3.0V948.6h-3.0zM248.3 888.1h3.0V950.0h-3.0zM251.3 897.2h3.0V974.0h-3.0zM254.3 904.3h3.0V966.3h-3.0zM257.3 907.4h3.0V969.6h-3.0zM260.3 901.0h3.0V975.9h-3.0zM263.3 919.4h3.0V1001.3h-3.0zM266.3 923.0h3.0V981.4h-3.0zM269.3 929.4h3.0V994.3h-3.0zM272.3 930.7h3.0V988.8h-3.0zM275.3 937.1h3.0V1000.2h-3.0zM278.3 940.1h3.0V1000.6h-3.0zM281.3 944.2h3.0V1006.6h-3.0zM284.3 947.5h3.0V1017.6h-3.0zM287.3 948.7h3.0V1012.4h-3.0zM290.3 911.3h3.0V1018.6h-3.0zM293.3 958.7h3.0V1025.0h-3.0zM296.3 959.4h3.0V1020.7h-3.0zM299.3 969.5h3.0V1027.9h-3.0zM302.3 965.9h3.0V1024.5h-3.0zM305.3 961.0h3.0V1037.8h-3.0zM308.3 977.4h3.0V1037.9h-3.0zM311.3 977.6h3.0V1039.0h-3.0zM314.3 956.5h3.0V1040.8h-3.0zM317.3 984.9h3.0V1039.1h-3.0zM320.3 995.4h3.0V1036.9h-3.0zM323.3 984.3h3.0V1022.5h-3.0zM326.3 981.5h3.0V1059.5h-3.0zM329.3 982.0h3.0V1038.5h-3.0zM332.3 981.9h3.0V1046.8h-3.0zM335.3 979.2h3.0V1042.2h-3.0zM338.3 980.0h3.0V1041.0h-3.0zM341.3 948.5h3.0V1027.1h-3.0zM344.3 944.7h3.0V1040.7h-3.0zM347.3 983.0h3.0V1038.9h-3.0zM350.3 980.3h3.0V1039.1h-3.0zM353.3 981.2h3.0V1053.6h-3.0zM356.3 980.6h3.0V1034.5h-3.0zM359.3 979.1h3.0V1037.2h-3.0zM362.3 971.9h3.0V1018.0h-3.0zM365.3 976.3h3.0V1033.9h-3.0zM368.3 961.0h3.0V1034.9h-3.0zM371.3 972.0h3.0V1032.4h-3.0zM374.3 964.9h3.0V1036.4h-3.0zM377.3 963.9h3.0V1025.1h-3.0zM380.3 954.3h3.0V1027.6h-3.0zM383.3 955.6h3.0V1015.3h-3.0zM386.3 937.7h3.0V1008.2h-3.0zM389.3 945.3h3.0V1003.1h-3.0zM392.3 932.3h3.0V993.3h-3.0zM395.3 924.8h3.0V992.5h-3.0zM398.3 923.2h3.0V983.2h-3.0zM401.3 912.6h3.0V979.9h-3.0zM404.3 910.7h3.0V977.9h-3.0zM407.3 901.1h3.0V969.0h-3.0zM410.3 896.2h3.0V968.9h-3.0zM413.3 892.4h3.0V958.9h-3.0zM416.3 880.9h3.0V939.3h-3.0zM419.3 872.3h3.0V935.8h-3.0zM422.3 857.3h3.0V924.3h-3.0zM425.3 854.3h3.0V926.0h-3.0zM428.3 841.2h3.0V910.5h-3.0zM431.3 829.4h3.0V900.8h-3.0zM434.3 814.5h3.0V883.5h-3.0zM437.3 809.4h3.0V878.5h-3.0zM440.3 788.1h3.0V873.2h-3.0zM443.3 778.2h3.0V856.8h-3.0zM446.3 767.6h3.0V853.6h-3.0zM449.3 754.4h3.0V837.2h-3.0zM452.3 740.8h3.0V813.4h-3.0zM455.3 723.3h3.0V798.2h-3.0zM458.3 704.0h3.0V786.7h-3.0zM461.3 699.6h3.0V775.1h-3.0zM464.3 680.4h3.0V761.1h-3.0zM467.3 672.2h3.0V743.9h-3.0zM470.3 660.2h3.0V739.7h-3.0zM473.3 652.3h3.0V738.0h-3.0zM476.3 647.7h3.0V725.1h-3.0zM479.3 624.0h3.0V710.2h-3.0zM482.3 613.7h3.0V696.0h-3.0zM485.3 612.4h3.0V693.4h-3.0zM488.3 586.8h3.0V681.9h-3.0zM491.3 583.5h3.0V672.8h-3.0zM494.3 564.4h3.0V658.1h-3.0zM497.3 540.8h3.0V644.6h-3.0zM500.3 538.9h3.0V632.6h-3.0zM503.3 530.5h3.0V614.1h-3.0zM506.3 526.9h3.0V608.0h-3.0zM509.3 534.6h3.0V625.1h-3.0zM512.3 540.3h3.0V637.0h-3.0zM515.3 568.5h3.0V659.9h-3.0zM518.3 596.5h3.0V683.0h-3.0zM521.3 601.2h3.0V699.7h-3.0zM524.3 626.5h3.0V720.7h-3.0zM527.3 648.0h3.0V738.2h-3.0zM530.3 668.9h3.0V796.1h-3.0zM533.3 692.6h3.0V790.9h-3.0zM536.3 721.3h3.0V811.5h-3.0zM539.3 744.7h3.0V833.1h-3.0zM542.3 761.3h3.0V846.5h-3.0zM545.3 783.7h3.0V865.1h-3.0zM548.3 763.1h3.0V879.8h-3.0zM551.3 802.6h3.0V893.7h-3.0zM554.3 804.4h3.0V952.8h-3.0zM557.3 864.8h3.0V940.3h-3.0zM560.3 885.7h3.0V958.1h-3.0zM563.3 903.1h3.0V977.3h-3.0zM566.3 920.7h3.0V983.5h-3.0zM569.3 934.8h3.0V995.4h-3.0zM572.3 942.6h3.0V1010.1h-3.0zM575.3 953.4h3.0V1025.8h-3.0zM578.3 967.0h3.0V1031.0h-3.0zM581.3 980.0h3.0V1043.8h-3.0zM584.3 985.9h3.0V1058.2h-3.0zM587.3 988.6h3.0V1064.7h-3.0zM590.3 1020.7h3.0V1075.4h-3.0zM593.3 1028.9h3.0V1086.2h-3.0zM596.3 1040.2h3.0V1097.1h-3.0zM599.3 1044.3h3.0V1104.9h-3.0zM602.3 1051.7h3.0V1123.3h-3.0zM605.3 1057.9h3.0V1117.3h-3.0zM608.3 1064.0h3.0V1128.1h-3.0zM611.3 1065.6h3.0V1131.6h-3.0zM614.3 1088.0h3.0V1147.5h-3.0zM617.3 1092.5h3.0V1139.6h-3.0zM620.3 1108.0h3.0V1159.4h-3.0zM623.3 1113.3h3.0V1163.0h-3.0zM626.3 1113.3h3.0V1163.9h-3.0zM629.3 1119.7h3.0V1165.2h-3.0zM632.3 1119.7h3.0V1166.5h-3.0zM635.3 1122.0h3.0V1176.3h-3.0zM638.3 1126.3h3.0V1185.2h-3.0zM641.3 1125.1h3.0V1198.4h-3.0zM644.3 1137.4h3.0V1188.5h-3.0zM647.3 1135.7h3.0V1198.5h-3.0zM650.3 1138.8h3.0V1183.4h-3.0zM653.3 1142.0h3.0V1182.0h-3.0zM656.3 1142.0h3.0V1183.0h-3.0zM659.3 1143.5h3.0V1189.2h-3.0zM662.3 1144.9h3.0V1192.5h-3.0zM665.3 1151.4h3.0V1191.9h-3.0zM668.3 1152.7h3.0V1193.3h-3.0zM671.3 1154.6h3.0V1196.9h-3.0zM674.3 1155.7h3.0V1201.6h-3.0zM677.3 1157.7h3.0V1203.3h-3.0zM680.3 1157.7h3.0V1200.6h-3.0zM683.3 1180.5h3.0V1209.8h-3.0zM686.3 1126.6h3.0V1209.6h-3.0zM689.3 1171.2h3.0V1196.6h-3.0zM692.3 1169.3h3.0V1212.6h-3.0zM695.3 1152.8h3.0V1218.7h-3.0zM698.3 1179.8h3.0V1222.0h-3.0zM701.3 1179.6h3.0V1211.8h-3.0zM704.3 1183.3h3.0V1241.1h-3.0zM707.3 1183.7h3.0V1226.1h-3.0zM710.3 1187.1h3.0V1229.4h-3.0zM713.3 1186.2h3.0V1230.7h-3.0zM716.3 1190.9h3.0V1240.4h-3.0zM719.3 1176.2h3.0V1237.3h-3.0zM722.3 1194.4h3.0V1237.7h-3.0zM725.3 1197.8h3.0V1235.4h-3.0zM728.3 1190.5h3.0V1241.7h-3.0zM731.3 1204.6h3.0V1244.6h-3.0zM734.3 1199.9h3.0V1250.9h-3.0zM737.3 1211.4h3.0V1248.5h-3.0zM740.3 1206.8h3.0V1248.1h-3.0zM743.3 1215.9h3.0V1255.8h-3.0zM746.3 1217.5h3.0V1255.7h-3.0zM749.3 1221.4h3.0V1259.9h-3.0zM752.3 1220.0h3.0V1260.7h-3.0zM755.3 1222.4h3.0V1256.4h-3.0zM758.3 1223.8h3.0V1263.1h-3.0zM761.3 1227.3h3.0V1266.2h-3.0zM764.3 1231.4h3.0V1267.1h-3.0zM767.3 1233.2h3.0V1271.2h-3.0zM770.3 1233.6h3.0V1271.9h-3.0zM773.3 1240.9h3.0V1275.9h-3.0zM776.3 1220.2h3.0V1276.5h-3.0zM779.3 1239.2h3.0V1277.6h-3.0zM782.3 1242.5h3.0V1278.9h-3.0zM785.3 1241.5h3.0V1282.1h-3.0zM788.3 1239.6h3.0V1306.5h-3.0zM791.3 1247.2h3.0V1283.6h-3.0zM794.3 1252.6h3.0V1276.6h-3.0zM797.3 1250.5h3.0V1286.4h-3.0zM800.3 1251.1h3.0V1290.5h-3.0zM803.3 1254.7h3.0V1293.8h-3.0zM806.3 1254.9h3.0V1292.9h-3.0zM809.3 1260.1h3.0V1297.5h-3.0zM812.3 1258.9h3.0V1295.4h-3.0zM815.3 1258.2h3.0V1297.5h-3.0zM818.3 1245.7h3.0V1297.1h-3.0zM821.3 1264.3h3.0V1304.2h-3.0zM824.3 1251.8h3.0V1301.9h-3.0zM827.3 1267.3h3.0V1301.0h-3.0zM830.3 1265.9h3.0V1298.4h-3.0zM833.3 1251.9h3.0V1301.5h-3.0zM836.3 1269.1h3.0V1305.5h-3.0zM839.3 1272.8h3.0V1308.8h-3.0zM842.3 1282.8h3.0V1316.7h-3.0zM845.3 1273.4h3.0V1310.0h-3.0zM848.3 1276.4h3.0V1308.7h-3.0zM851.3 1277.3h3.0V1313.6h-3.0zM854.3 1278.5h3.0V1320.8h-3.0zM857.3 1276.6h3.0V1312.5h-3.0zM860.3 1280.6h3.0V1317.2h-3.0zM863.3 1274.7h3.0V1319.8h-3.0zM866.3 1284.9h3.0V1324.8h-3.0zM869.3 1285.7h3.0V1318.0h-3.0zM872.3 1285.8h3.0V1322.2h-3.0zM875.3 1282.2h3.0V1321.9h-3.0zM878.3 1286.3h3.0V1320.5h-3.0zM881.3 1292.7h3.0V1323.7h-3.0zM884.3 1288.8h3.0V1326.9h-3.0zM887.3 1290.0h3.0V1327.1h-3.0zM890.3 1290.6h3.0V1326.5h-3.0zM893.3 1290.8h3.0V1326.3h-3.0zM896.3 1288.0h3.0V1326.7h-3.0zM899.3 1291.1h3.0V1320.6h-3.0zM902.3 1291.6h3.0V1327.0h-3.0zM905.3 1294.4h3.0V1331.2h-3.0zM908.3 1295.1h3.0V1331.4h-3.0zM911.3 1297.1h3.0V1329.6h-3.0zM914.3 1289.2h3.0V1326.4h-3.0zM917.3 1296.3h3.0V1330.3h-3.0zM920.3 1296.4h3.0V1330.6h-3.0zM923.3 1293.9h3.0V1328.1h-3.0zM926.3 1300.1h3.0V1330.5h-3.0zM929.3 1296.2h3.0V1333.2h-3.0zM932.3 1297.7h3.0V1333.1h-3.0zM935.3 1301.4h3.0V1324.2h-3.0zM938.3 1303.0h3.0V1335.1h-3.0zM941.3 1294.6h3.0V1330.8h-3.0zM944.3 1302.4h3.0V1336.7h-3.0zM947.3 1304.8h3.0V1354.5h-3.0zM950.3 1306.1h3.0V1335.4h-3.0zM953.3 1306.0h3.0V1336.4h-3.0zM956.3 1307.8h3.0V1337.6h-3.0zM959.3 1310.5h3.0V1337.7h-3.0zM962.3 1307.8h3.0V1338.7h-3.0zM965.3 1316.6h3.0V1335.9h-3.0zM968.3 1306.8h3.0V1338.5h-3.0zM971.3 1299.3h3.0V1339.6h-3.0zM974.3 1309.8h3.0V1338.0h-3.0zM977.3 1312.2h3.0V1338.7h-3.0zM980.3 1310.3h3.0V1340.7h-3.0zM983.3 1313.6h3.0V1343.4h-3.0zM986.3 1318.3h3.0V1347.4h-3.0zM989.3 1313.6h3.0V1342.2h-3.0zM992.3 1311.9h3.0V1342.1h-3.0zM995.3 1319.0h3.0V1342.9h-3.0zM998.3 1317.0h3.0V1348.8h-3.0zM1001.3 1317.3h3.0V1348.3h-3.0zM1004.3 1319.8h3.0V1366.8h-3.0zM1007.3 1322.8h3.0V1348.8h-3.0zM1010.3 1326.2h3.0V1356.3h-3.0zM1013.3 1326.6h3.0V1355.9h-3.0zM1016.3 1335.1h3.0V1355.0h-3.0zM1019.3 1326.4h3.0V1356.6h-3.0zM1022.3 1329.4h3.0V1355.3h-3.0zM1025.3 1330.5h3.0V1354.4h-3.0zM1028.3 1334.0h3.0V1357.3h-3.0zM1031.3 1333.2h3.0V1359.3h-3.0zM1034.3 1336.3h3.0V1360.1h-3.0zM1037.3 1336.2h3.0V1360.4h-3.0zM1040.3 1337.0h3.0V1360.7h-3.0zM1043.3 1339.4h3.0V1367.0h-3.0zM1046.3 1341.6h3.0V1366.2h-3.0zM1049.3 1342.2h3.0V1365.9h-3.0zM1052.3 1343.8h3.0V1371.1h-3.0zM1055.3 1353.3h3.0V1371.7h-3.0zM1058.3 1345.8h3.0V1371.2h-3.0zM1061.3 1349.5h3.0V1374.9h-3.0zM1064.3 1349.2h3.0V1373.8h-3.0zM1067.3 1351.0h3.0V1376.3h-3.0zM1070.3 1352.6h3.0V1375.2h-3.0zM1073.3 1354.4h3.0V1379.0h-3.0zM1076.3 1355.2h3.0V1378.8h-3.0zM1079.3 1354.8h3.0V1379.1h-3.0zM1082.3 1357.0h3.0V1380.5h-3.0zM1085.3 1355.6h3.0V1382.0h-3.0zM1088.3 1359.8h3.0V1380.4h-3.0zM1091.3 1361.9h3.0V1385.4h-3.0zM1094.3 1360.3h3.0V1398.4h-3.0zM1097.3 1359.9h3.0V1388.1h-3.0zM1100.3 1362.5h3.0V1384.2h-3.0zM1103.3 1364.9h3.0V1391.0h-3.0zM1106.3 1366.7h3.0V1388.5h-3.0zM1109.3 1362.1h3.0V1388.2h-3.0zM1112.3 1366.4h3.0V1391.2h-3.0zM1115.3 1363.8h3.0V1391.8h-3.0zM1118.3 1366.6h3.0V1390.8h-3.0zM1121.3 1366.4h3.0V1390.0h-3.0zM1124.3 1368.2h3.0V1396.8h-3.0zM1127.3 1366.8h3.0V1390.0h-3.0zM1130.3 1368.2h3.0V1392.1h-3.0zM1133.3 1368.8h3.0V1392.6h-3.0zM1136.3 1364.9h3.0V1389.6h-3.0zM1139.3 1374.0h3.0V1394.5h-3.0zM1142.3 1360.1h3.0V1390.6h-3.0zM1145.3 1368.5h3.0V1392.0h-3.0zM1148.3 1367.1h3.0V1391.7h-3.0zM1151.3 1368.0h3.0V1393.9h-3.0zM1154.3 1367.8h3.0V1393.6h-3.0zM1157.3 1369.0h3.0V1395.6h-3.0zM1160.3 1352.1h3.0V1393.3h-3.0zM1163.3 1368.3h3.0V1394.2h-3.0zM1166.3 1369.5h3.0V1395.7h-3.0zM1169.3 1370.5h3.0V1394.7h-3.0zM1172.3 1370.2h3.0V1395.4h-3.0zM1175.3 1356.6h3.0V1397.7h-3.0zM1178.3 1359.0h3.0V1395.7h-3.0zM1181.3 1358.0h3.0V1397.0h-3.0zM1184.3 1373.1h3.0V1397.3h-3.0zM1187.3 1369.6h3.0V1398.9h-3.0zM1190.3 1372.9h3.0V1395.6h-3.0zM1193.3 1374.2h3.0V1398.9h-3.0zM1196.3 1373.7h3.0V1398.0h-3.0zM1199.3 1372.8h3.0V1398.3h-3.0zM1202.3 1375.3h3.0V1399.3h-3.0zM1205.3 1374.9h3.0V1400.3h-3.0zM1208.3 1375.6h3.0V1401.1h-3.0zM1211.3 1376.6h3.0V1398.4h-3.0zM1214.3 1376.4h3.0V1400.6h-3.0zM1217.3 1377.4h3.0V1394.9h-3.0zM1220.3 1377.5h3.0V1404.6h-3.0zM1223.3 1376.9h3.0V1401.9h-3.0zM1226.3 1379.1h3.0V1404.6h-3.0zM1229.3 1381.5h3.0V1405.8h-3.0zM1232.3 1380.6h3.0V1403.7h-3.0zM1235.3 1382.8h3.0V1406.5h-3.0zM1238.3 1380.2h3.0V1407.8h-3.0zM1241.3 1381.3h3.0V1405.5h-3.0zM1244.3 1379.6h3.0V1404.0h-3.0zM1247.3 1381.9h3.0V1403.1h-3.0zM1250.3 1384.2h3.0V1407.5h-3.0zM1253.3 1383.1h3.0V1408.9h-3.0zM1256.3 1381.2h3.0V1408.1h-3.0zM1259.3 1361.1h3.0V1409.0h-3.0zM1262.3 1384.2h3.0V1405.2h-3.0zM1265.3 1382.5h3.0V1412.3h-3.0zM1268.3 1389.5h3.0V1408.8h-3.0zM1271.3 1384.2h3.0V1408.0h-3.0zM1274.3 1386.6h3.0V1409.5h-3.0zM1277.3 1386.7h3.0V1409.3h-3.0zM1280.3 1384.7h3.0V1408.1h-3.0zM1283.3 1382.0h3.0V1409.4h-3.0zM1286.3 1384.6h3.0V1411.1h-3.0zM1289.3 1383.6h3.0V1412.0h-3.0zM1292.3 1386.3h3.0V1411.3h-3.0zM1295.3 1362.4h3.0V1410.2h-3.0zM1298.3 1388.6h3.0V1412.1h-3.0zM1301.3 1388.7h3.0V1409.4h-3.0zM1304.3 1386.3h3.0V1412.4h-3.0zM1307.3 1376.9h3.0V1412.6h-3.0zM1310.3 1387.6h3.0V1412.4h-3.0zM1313.3 1387.0h3.0V1411.4h-3.0zM1316.3 1389.0h3.0V1410.7h-3.0zM1319.3 1385.9h3.0V1412.4h-3.0zM1322.3 1382.0h3.0V1411.4h-3.0zM1325.3 1389.0h3.0V1412.3h-3.0zM1328.3 1388.0h3.0V1411.3h-3.0zM1331.3 1387.8h3.0V1410.0h-3.0zM1334.3 1387.5h3.0V1407.7h-3.0zM1337.3 1388.3h3.0V1415.3h-3.0zM1340.3 1388.6h3.0V1413.9h-3.0zM1343.3 1386.9h3.0V1422.1h-3.0zM1346.3 1388.2h3.0V1413.8h-3.0zM1349.3 1387.7h3.0V1414.4h-3.0zM1352.3 1389.8h3.0V1412.9h-3.0zM1355.3 1393.2h3.0V1415.0h-3.0zM1358.3 1392.4h3.0V1413.5h-3.0zM1361.3 1393.4h3.0V1416.0h-3.0zM1364.3 1392.7h3.0V1426.7h-3.0zM1367.3 1391.1h3.0V1416.2h-3.0zM1370.3 1391.1h3.0V1414.6h-3.0zM1373.3 1389.1h3.0V1417.8h-3.0zM1376.3 1391.0h3.0V1420.3h-3.0zM1379.3 1391.7h3.0V1421.1h-3.0zM1382.3 1392.3h3.0V1416.6h-3.0zM1385.3 1378.4h3.0V1416.9h-3.0zM1388.3 1393.2h3.0V1429.1h-3.0zM1391.3 1396.4h3.0V1417.9h-3.0zM1394.3 1394.9h3.0V1416.0h-3.0zM1397.3 1394.9h3.0V1419.4h-3.0zM1400.3 1396.2h3.0V1414.5h-3.0zM1403.3 1394.2h3.0V1421.3h-3.0zM1406.3 1389.8h3.0V1422.6h-3.0zM1409.3 1398.7h3.0V1418.5h-3.0zM1412.3 1396.4h3.0V1421.9h-3.0zM1415.3 1396.8h3.0V1423.8h-3.0zM1418.3 1398.4h3.0V1434.6h-3.0zM1421.3 1397.6h3.0V1419.7h-3.0zM1424.3 1396.6h3.0V1425.5h-3.0zM1427.3 1398.0h3.0V1422.7h-3.0zM1430.3 1397.3h3.0V1418.0h-3.0zM1433.3 1398.0h3.0V1435.3h-3.0zM1436.3 1399.8h3.0V1422.9h-3.0zM1439.3 1398.8h3.0V1424.2h-3.0zM1442.3 1391.8h3.0V1425.0h-3.0zM1445.3 1399.9h3.0V1425.6h-3.0zM1448.3 1402.0h3.0V1426.6h-3.0zM1451.3 1401.2h3.0V1428.2h-3.0zM1454.3 1401.3h3.0V1426.4h-3.0zM1457.3 1406.5h3.0V1427.4h-3.0zM1460.3 1402.4h3.0V1428.2h-3.0zM1463.3 1402.0h3.0V1426.0h-3.0zM1466.3 1402.0h3.0V1425.0h-3.0zM1469.3 1403.2h3.0V1429.3h-3.0zM1472.3 1390.8h3.0V1427.0h-3.0zM1475.3 1401.5h3.0V1429.0h-3.0zM1478.3 1404.9h3.0V1427.9h-3.0zM1481.3 1404.2h3.0V1429.3h-3.0zM1484.3 1391.7h3.0V1429.1h-3.0zM1487.3 1403.3h3.0V1439.4h-3.0zM1490.3 1404.9h3.0V1430.2h-3.0zM1493.3 1407.4h3.0V1430.7h-3.0zM1496.3 1405.3h3.0V1430.3h-3.0zM1499.3 1403.3h3.0V1430.6h-3.0zM1502.3 1407.8h3.0V1429.0h-3.0zM1505.3 1405.3h3.0V1428.5h-3.0zM1508.3 1405.3h3.0V1447.9h-3.0zM1511.3 1405.9h3.0V1432.0h-3.0zM1514.3 1398.5h3.0V1431.9h-3.0zM1517.3 1396.1h3.0V1432.9h-3.0zM1520.3 1408.8h3.0V1432.1h-3.0zM1523.3 1408.1h3.0V1434.0h-3.0zM1526.3 1405.8h3.0V1431.4h-3.0zM1529.3 1400.2h3.0V1431.5h-3.0zM1532.3 1408.8h3.0V1434.4h-3.0zM1535.3 1410.5h3.0V1434.2h-3.0zM1538.3 1409.2h3.0V1433.0h-3.0zM1541.3 1405.8h3.0V1432.6h-3.0zM1544.3 1410.9h3.0V1436.0h-3.0zM1547.3 1412.2h3.0V1433.9h-3.0zM1550.3 1398.1h3.0V1437.7h-3.0zM1553.3 1411.3h3.0V1438.6h-3.0zM1556.3 1411.9h3.0V1435.2h-3.0zM1559.3 1412.3h3.0V1435.1h-3.0zM1562.3 1414.0h3.0V1435.6h-3.0zM1565.3 1409.5h3.0V1435.8h-3.0zM1568.3 1414.8h3.0V1442.2h-3.0zM1571.3 1411.5h3.0V1436.7h-3.0zM1574.3 1413.6h3.0V1435.9h-3.0zM1577.3 1410.7h3.0V1436.7h-3.0zM1580.3 1411.4h3.0V1447.8h-3.0zM1583.3 1413.8h3.0V1436.4h-3.0zM1586.3 1414.9h3.0V1436.8h-3.0zM1589.3 1416.4h3.0V1439.0h-3.0zM1592.3 1415.6h3.0V1438.1h-3.0zM1595.3 1417.4h3.0V1433.6h-3.0zM1598.3 1417.7h3.0V1441.1h-3.0zM1601.3 1415.8h3.0V1442.5h-3.0zM1604.3 1418.5h3.0V1437.6h-3.0zM1607.3 1419.1h3.0V1440.2h-3.0zM1610.3 1418.0h3.0V1449.4h-3.0zM1613.3 1419.4h3.0V1441.9h-3.0zM1616.3 1417.5h3.0V1441.6h-3.0zM1619.3 1408.9h3.0V1440.7h-3.0zM1622.3 1417.6h3.0V1448.0h-3.0zM1625.3 1397.9h3.0V1450.4h-3.0zM1628.3 1418.1h3.0V1443.2h-3.0zM1631.3 1418.8h3.0V1441.6h-3.0zM1634.3 1419.8h3.0V1447.2h-3.0zM1637.3 1416.4h3.0V1442.4h-3.0zM1640.3 1418.8h3.0V1446.1h-3.0zM1643.3 1418.9h3.0V1445.9h-3.0zM1646.3 1420.4h3.0V1441.7h-3.0zM1649.3 1418.5h3.0V1444.4h-3.0zM1652.3 1408.9h3.0V1445.0h-3.0zM1655.3 1420.2h3.0V1446.3h-3.0zM1658.3 1420.7h3.0V1443.8h-3.0zM1661.3 1421.2h3.0V1446.2h-3.0zM1664.3 1419.5h3.0V1443.8h-3.0zM1667.3 1422.6h3.0V1445.2h-3.0zM1670.3 1421.4h3.0V1444.7h-3.0zM1673.3 1421.6h3.0V1446.5h-3.0zM1676.3 1421.5h3.0V1447.3h-3.0zM1679.3 1420.9h3.0V1450.6h-3.0zM1682.3 1422.3h3.0V1447.3h-3.0zM1685.3 1422.3h3.0V1452.4h-3.0zM1688.3 1413.9h3.0V1450.6h-3.0zM1691.3 1428.0h3.0V1449.2h-3.0zM1694.3 1428.5h3.0V1446.9h-3.0zM1697.3 1430.7h3.0V1447.3h-3.0zM1700.3 1424.5h3.0V1450.3h-3.0zM1703.3 1418.8h3.0V1446.1h-3.0zM1706.3 1425.9h3.0V1446.4h-3.0zM1709.3 1426.6h3.0V1448.8h-3.0zM1712.3 1427.9h3.0V1449.1h-3.0zM1715.3 1423.0h3.0V1449.0h-3.0zM1718.3 1427.4h3.0V1451.2h-3.0zM1721.3 1427.3h3.0V1450.2h-3.0zM1724.3 1425.6h3.0V1448.5h-3.0zM1727.3 1427.3h3.0V1451.7h-3.0zM1730.3 1430.9h3.0V1449.9h-3.0zM1733.3 1427.0h3.0V1464.4h-3.0zM1736.3 1427.9h3.0V1451.1h-3.0zM1739.3 1428.0h3.0V1443.7h-3.0zM1742.3 1428.2h3.0V1450.1h-3.0zM1745.3 1427.5h3.0V1451.9h-3.0zM1748.3 1427.8h3.0V1453.5h-3.0zM1751.3 1429.6h3.0V1457.0h-3.0zM1754.3 1430.4h3.0V1453.2h-3.0zM1757.3 1430.1h3.0V1454.1h-3.0zM1760.3 1431.7h3.0V1451.1h-3.0zM1763.3 1429.6h3.0V1462.5h-3.0zM1766.3 1431.0h3.0V1452.4h-3.0zM1769.3 1432.3h3.0V1453.3h-3.0zM1772.3 1429.8h3.0V1453.7h-3.0zM1775.3 1430.9h3.0V1452.4h-3.0zM1778.3 1432.5h3.0V1454.4h-3.0zM1781.3 1425.4h3.0V1454.9h-3.0zM1784.3 1432.8h3.0V1454.4h-3.0zM1787.3 1430.1h3.0V1453.1h-3.0zM1790.3 1433.6h3.0V1457.1h-3.0zM1793.3 1432.3h3.0V1454.2h-3.0zM1796.3 1431.5h3.0V1455.4h-3.0zM1799.3 1430.9h3.0V1455.4h-3.0zM1802.3 1432.7h3.0V1456.7h-3.0zM1805.3 1434.3h3.0V1457.2h-3.0zM1808.3 1431.5h3.0V1453.9h-3.0zM1811.3 1434.7h3.0V1455.2h-3.0zM1814.3 1434.6h3.0V1463.2h-3.0zM1817.3 1434.9h3.0V1457.3h-3.0zM1820.3 1436.2h3.0V1458.2h-3.0zM1823.3 1435.7h3.0V1458.8h-3.0zM1826.3 1437.0h3.0V1456.4h-3.0zM1829.3 1434.7h3.0V1458.3h-3.0zM1832.3 1439.8h3.0V1459.0h-3.0zM1835.3 1437.9h3.0V1462.8h-3.0zM1838.3 1438.4h3.0V1459.0h-3.0zM1841.3 1437.1h3.0V1460.5h-3.0zM1844.3 1436.8h3.0V1452.8h-3.0zM1847.3 1436.3h3.0V1458.9h-3.0zM1850.3 1436.5h3.0V1460.6h-3.0zM1853.3 1444.1h3.0V1461.2h-3.0zM1856.3 1437.8h3.0V1461.1h-3.0zM1859.3 1439.2h3.0V1459.8h-3.0zM1862.3 1438.1h3.0V1456.0h-3.0zM1865.3 1438.6h3.0V1468.5h-3.0zM1868.3 1430.8h3.0V1462.5h-3.0zM1871.3 1437.7h3.0V1459.7h-3.0zM1874.3 1441.2h3.0V1462.0h-3.0zM1877.3 1440.2h3.0V1460.4h-3.0zM1880.3 1439.4h3.0V1461.3h-3.0zM1883.3 1440.7h3.0V1459.4h-3.0zM1886.3 1438.9h3.0V1462.3h-3.0zM1889.3 1438.9h3.0V1464.1h-3.0zM1892.3 1442.2h3.0V1461.3h-3.0zM1895.3 1438.0h3.0V1461.1h-3.0zM1898.3 1440.9h3.0V1462.2h-3.0zM1901.3 1442.7h3.0V1457.3h-3.0zM1904.3 1440.2h3.0V1465.8h-3.0zM1907.3 1440.6h3.0V1462.1h-3.0zM1910.3 1441.3h3.0V1461.8h-3.0zM1913.3 1441.7h3.0V1463.7h-3.0zM1916.3 1440.9h3.0V1465.5h-3.0zM1919.3 1440.3h3.0V1464.0h-3.0zM1922.3 1441.8h3.0V1475.6h-3.0zM1925.3 1441.3h3.0V1464.6h-3.0zM1928.3 1442.1h3.0V1461.8h-3.0zM1931.3 1442.4h3.0V1464.9h-3.0zM1934.3 1441.4h3.0V1463.8h-3.0zM1937.3 1443.2h3.0V1463.8h-3.0zM1940.3 1438.4h3.0V1462.6h-3.0zM1943.3 1440.6h3.0V1463.2h-3.0zM1946.3 1443.2h3.0V1467.8h-3.0zM1949.3 1440.7h3.0V1464.7h-3.0zM1952.3 1443.2h3.0V1463.8h-3.0zM1955.3 1431.3h3.0V1462.3h-3.0zM1958.3 1442.5h3.0V1464.3h-3.0zM1961.3 1444.1h3.0V1462.5h-3.0zM1964.3 1445.0h3.0V1464.8h-3.0zM1967.3 1443.7h3.0V1468.3h-3.0zM1970.3 1444.3h3.0V1463.4h-3.0zM1973.3 1443.6h3.0V1463.7h-3.0zM1976.3 1429.1h3.0V1470.4h-3.0zM1979.3 1438.1h3.0V1459.6h-3.0zM1982.3 1443.2h3.0V1463.4h-3.0zM1985.3 1442.3h3.0V1463.5h-3.0zM1988.3 1442.8h3.0V1464.4h-3.0zM1991.3 1443.9h3.0V1465.5h-3.0zM1994.3 1439.8h3.0V1463.9h-3.0zM1997.3 1443.1h3.0V1464.4h-3.0zM2000.3 1444.2h3.0V1464.7h-3.0zM2003.3 1437.1h3.0V1462.8h-3.0zM2006.3 1449.3h3.0V1465.7h-3.0zM2009.3 1442.0h3.0V1464.8h-3.0zM2012.3 1443.5h3.0V1464.7h-3.0zM2015.3 1435.2h3.0V1462.8h-3.0zM2018.3 1444.0h3.0V1465.5h-3.0zM2021.3 1444.1h3.0V1461.7h-3.0zM2024.3 1443.0h3.0V1463.1h-3.0zM2027.3 1441.6h3.0V1462.8h-3.0zM2030.3 1434.3h3.0V1463.0h-3.0zM2033.3 1443.4h3.0V1464.7h-3.0zM2036.3 1443.2h3.0V1464.5h-3.0zM2039.3 1442.7h3.0V1463.3h-3.0zM2042.3 1443.4h3.0V1474.8h-3.0zM2045.3 1444.5h3.0V1464.4h-3.0zM2048.3 1444.3h3.0V1461.9h-3.0zM2051.3 1446.0h3.0V1464.5h-3.0zM2054.3 1440.1h3.0V1464.6h-3.0zM2057.3 1437.8h3.0V1464.5h-3.0zM2060.3 1441.2h3.0V1462.0h-3.0zM2063.3 1446.0h3.0V1464.3h-3.0zM2066.3 1445.7h3.0V1463.9h-3.0zM2069.3 1444.4h3.0V1464.6h-3.0zM2072.3 1433.1h3.0V1465.2h-3.0zM2075.3 1445.7h3.0V1461.9h-3.0zM2078.3 1443.6h3.0V1462.7h-3.0zM2081.3 1445.9h3.0V1464.7h-3.0zM2084.3 1444.5h3.0V1464.9h-3.0zM2087.3 1441.9h3.0V1465.1h-3.0zM2090.3 1443.6h3.0V1465.0h-3.0zM2093.3 1443.3h3.0V1476.8h-3.0zM2096.3 1445.2h3.0V1464.9h-3.0zM2099.3 1441.6h3.0V1467.1h-3.0zM2102.3 1442.7h3.0V1466.2h-3.0zM2105.3 1445.3h3.0V1473.5h-3.0zM2108.3 1442.0h3.0V1459.5h-3.0zM2111.3 1437.6h3.0V1465.1h-3.0zM2114.3 1444.6h3.0V1462.8h-3.0zM2117.3 1438.2h3.0V1464.3h-3.0zM2120.3 1445.1h3.0V1465.0h-3.0zM2123.3 1445.8h3.0V1465.4h-3.0zM2126.3 1442.7h3.0V1464.4h-3.0zM2129.3 1444.0h3.0V1464.0h-3.0zM2132.3 1444.7h3.0V1464.7h-3.0zM2135.3 1444.4h3.0V1463.8h-3.0zM2138.3 1445.3h3.0V1478.1h-3.0zM2141.3 1445.4h3.0V1465.8h-3.0zM2144.3 1443.9h3.0V1471.0h-3.0zM2147.3 1443.2h3.0V1473.0h-3.0zM2150.3 1445.5h3.0V1460.1h-3.0zM2153.3 1447.9h3.0V1465.3h-3.0zM2156.3 1445.6h3.0V1463.7h-3.0zM2159.3 1445.7h3.0V1466.0h-3.0zM2162.3 1444.9h3.0V1464.4h-3.0zM2165.3 1449.5h3.0V1466.1h-3.0zM2168.3 1448.1h3.0V1463.6h-3.0zM2171.3 1448.1h3.0V1467.1h-3.0zM2174.3 1445.0h3.0V1464.6h-3.0zM2177.3 1445.5h3.0V1464.4h-3.0zM2180.3 1440.0h3.0V1466.3h-3.0zM2183.3 1442.8h3.0V1466.0h-3.0zM2186.3 1441.7h3.0V1465.5h-3.0zM2189.3 1445.7h3.0V1458.5h-3.0zM2192.3 1445.0h3.0V1464.9h-3.0zM2195.3 1439.9h2.7V1466.0h-2.7z"/>
<path fill="#00f" d="M167.0 525.7h6.3V603.1h-6.3zM173.3 562.6h3.0V630.0h-3.0zM176.3 540.8h3.0V640.0h-3.0zM179.3 589.8h3.0V678.5h-3.0zM182.3 605.1h3.0V667.4h-3.0zM185.3 616.0h3.0V675.6h-3.0zM188.3 624.7h3.0V686.4h-3.0zM191.3 644.5h3.0V700.7h-3.0zM194.3 652.3h3.0V713.7h-3.0zM197.3 661.9h3.0V729.3h-3.0zM200.3 671.8h3.0V739.9h-3.0zM203.3 685.5h3.0V746.8h-3.0zM206.3 702.0h3.0V789.5h-3.0zM209.3 714.3h3.0V775.2h-3.0zM212.3 727.8h3.0V785.6h-3.0zM215.3 740.9h3.0V798.7h-3.0zM218.3 748.3h3.0V813.2h-3.0zM221.3 762.5h3.0V821.7h-3.0zM224.3 775.3h3.0V827.6h-3.0zM227.3 786.9h3.0V849.7h-3.0zM230.3 793.3h3.0V851.8h-3.0zM233.3 799.5h3.0V860.4h-3.0zM236.3 791.9h3.0V870.6h-3.0zM239.3 816.1h3.0V871.9h-3.0zM242.3 827.1h3.0V893.2h-3.0zM245.3 823.3h3.0V887.1h-3.0zM248.3 838.4h3.0V890.9h-3.0zM251.3 843.4h3.0V894.0h-3.0zM254.3 847.3h3.0V901.5h-3.0zM257.3 857.3h3.0V909.7h-3.0zM260.3 858.7h3.0V910.8h-3.0zM263.3 864.7h3.0V925.2h-3.0zM266.3 870.4h3.0V925.0h-3.0zM269.3 872.5h3.0V958.1h-3.0zM272.3 882.0h3.0V937.3h-3.0zM275.3 884.9h3.0V943.1h-3.0zM278.3 865.2h3.0V939.3h-3.0zM281.3 913.0h3.0V944.3h-3.0zM284.3 893.9h3.0V951.6h-3.0zM287.3 902.7h3.0V947.5h-3.0zM290.3 902.8h3.0V957.3h-3.0zM293.3 904.3h3.0V958.0h-3.0zM296.3 905.5h3.0V959.7h-3.0zM299.3 914.3h3.0V967.0h-3.0zM302.3 913.8h3.0V968.5h-3.0zM305.3 898.5h3.0V970.0h-3.0zM308.3 914.9h3.0V973.8h-3.0zM311.3 920.0h3.0V977.8h-3.0zM314.3 918.7h3.0V973.9h-3.0zM317.3 919.8h3.0V977.5h-3.0zM320.3 922.8h3.0V978.9h-3.0zM323.3 925.9h3.0V978.0h-3.0zM326.3 922.9h3.0V976.6h-3.0zM329.3 916.3h3.0V974.9h-3.0zM332.3 921.9h3.0V969.7h-3.0zM335.3 916.8h3.0V967.0h-3.0zM338.3 914.1h3.0V968.9h-3.0zM341.3 911.4h3.0V964.6h-3.0zM344.3 892.4h3.0V986.9h-3.0zM347.3 907.8h3.0V960.3h-3.0zM350.3 901.5h3.0V962.2h-3.0zM353.3 900.1h3.0V963.7h-3.0zM356.3 897.4h3.0V958.5h-3.0zM359.3 884.5h3.0V951.3h-3.0zM362.3 892.5h3.0V945.0h-3.0zM365.3 884.0h3.0V942.2h-3.0zM368.3 880.5h3.0V936.2h-3.0zM371.3 871.2h3.0V930.9h-3.0zM374.3 862.6h3.0V924.4h-3.0zM377.3 868.0h3.0V917.5h-3.0zM380.3 838.8h3.0V907.1h-3.0zM383.3 848.7h3.0V900.9h-3.0zM386.3 822.4h3.0V887.9h-3.0zM389.3 825.8h3.0V876.4h-3.0zM392.3 803.2h3.0V869.3h-3.0zM395.3 786.2h3.0V856.2h-3.0zM398.3 782.5h3.0V849.4h-3.0zM401.3 763.3h3.0V836.3h-3.0zM404.3 743.0h3.0V816.9h-3.0zM407.3 719.5h3.0V793.5h-3.0zM410.3 698.3h3.0V765.9h-3.0zM413.3 679.5h3.0V743.1h-3.0zM416.3 652.8h3.0V729.1h-3.0zM419.3 642.8h3.0V712.8h-3.0zM422.3 620.4h3.0V698.3h-3.0zM425.3 602.9h3.0V665.4h-3.0zM428.3 579.0h3.0V657.3h-3.0zM431.3 566.2h3.0V640.1h-3.0zM434.3 549.0h3.0V625.5h-3.0zM437.3 532.1h3.0V611.5h-3.0zM440.3 513.0h3.0V595.3h-3.0zM443.3 486.6h3.0V565.7h-3.0zM446.3 461.6h3.0V541.1h-3.0zM449.3 436.4h3.0V517.1h-3.0zM452.3 379.5h3.0V496.5h-3.0zM455.3 395.6h3.0V472.4h-3.0zM458.3 370.2h3.0V445.2h-3.0zM461.3 364.2h3.0V434.0h-3.0zM464.3 328.9h3.0V428.0h-3.0zM467.3 326.4h3.0V401.3h-3.0zM470.3 313.5h3.0V382.6h-3.0zM473.3 304.1h3.0V375.3h-3.0zM476.3 269.5h3.0V347.4h-3.0zM479.3 246.5h3.0V308.7h-3.0zM482.3 224.4h3.0V311.7h-3.0zM485.3 210.1h3.0V294.5h-3.0zM488.3 204.2h3.0V273.6h-3.0zM491.3 190.6h3.0V270.8h-3.0zM494.3 185.2h3.0V257.2h-3.0zM497.3 188.0h3.0V255.0h-3.0zM500.3 189.4h3.0V248.6h-3.0zM503.3 193.4h3.0V268.5h-3.0zM506.3 203.1h3.0V286.4h-3.0zM509.3 213.4h3.0V306.1h-3.0zM512.3 239.1h3.0V346.6h-3.0zM515.3 287.5h3.0V404.0h-3.0zM518.3 343.0h3.0V461.9h-3.0zM521.3 386.1h3.0V490.0h-3.0zM524.3 427.6h3.0V525.2h-3.0zM527.3 451.5h3.0V547.3h-3.0zM530.3 487.1h3.0V588.6h-3.0zM533.3 527.6h3.0V634.4h-3.0zM536.3 558.3h3.0V672.5h-3.0zM539.3 594.8h3.0V680.8h-3.0zM542.3 621.0h3.0V701.0h-3.0zM545.3 646.2h3.0V729.2h-3.0zM548.3 669.4h3.0V751.3h-3.0zM551.3 698.6h3.0V774.8h-3.0zM554.3 724.7h3.0V800.2h-3.0zM557.3 749.4h3.0V820.0h-3.0zM560.3 766.4h3.0V837.7h-3.0zM563.3 789.5h3.0V872.6h-3.0zM566.3 816.9h3.0V893.6h-3.0zM569.3 849.1h3.0V916.5h-3.0zM572.3 868.3h3.0V941.3h-3.0zM575.3 888.2h3.0V961.6h-3.0zM578.3 907.3h3.0V980.1h-3.0zM581.3 929.3h3.0V991.2h-3.0zM584.3 948.7h3.0V1005.5h-3.0zM587.3 954.6h3.0V1023.2h-3.0zM590.3 978.8h3.0V1032.1h-3.0zM593.3 986.8h3.0V1043.1h-3.0zM596.3 999.3h3.0V1051.1h-3.0zM599.3 975.7h3.0V1066.2h-3.0zM602.3 1015.8h3.0V1065.5h-3.0zM605.3 1015.1h3.0V1079.3h-3.0zM608.3 1026.1h3.0V1082.8h-3.0zM611.3 1041.5h3.0V1090.4h-3.0zM614.3 1042.7h3.0V1095.4h-3.0zM617.3 1043.3h3.0V1099.0h-3.0zM620.3 1053.0h3.0V1105.0h-3.0zM623.3 1061.1h3.0V1111.9h-3.0zM626.3 1071.7h3.0V1117.0h-3.0zM629.3 1076.9h3.0V1120.4h-3.0zM632.3 1080.7h3.0V1129.5h-3.0zM635.3 1079.7h3.0V1137.2h-3.0zM638.3 1086.4h3.0V1135.1h-3.0zM641.3 1090.3h3.0V1136.1h-3.0zM644.3 1095.6h3.0V1144.2h-3.0zM647.3 1096.3h3.0V1149.0h-3.0zM650.3 1098.3h3.0V1150.4h-3.0zM653.3 1102.4h3.0V1155.1h-3.0zM656.3 1109.9h3.0V1161.3h-3.0zM659.3 1095.3h3.0V1167.0h-3.0zM662.3 1122.9h3.0V1167.6h-3.0zM665.3 1123.4h3.0V1174.0h-3.0zM668.3 1128.6h3.0V1167.3h-3.0zM671.3 1131.2h3.0V1183.3h-3.0zM674.3 1122.0h3.0V1186.4h-3.0zM677.3 1139.5h3.0V1190.8h-3.0zM680.3 1129.7h3.0V1186.1h-3.0zM683.3 1142.1h3.0V1188.5h-3.0zM686.3 1143.7h3.0V1191.4h-3.0zM689.3 1145.1h3.0V1193.2h-3.0zM692.3 1151.7h3.0V1191.5h-3.0zM695.3 1148.0h3.0V1197.0h-3.0zM698.3 1137.1h3.0V1198.1h-3.0zM701.3 1152.8h3.0V1200.5h-3.0zM704.3 1158.3h3.0V1213.4h-3.0zM707.3 1164.3h3.0V1206.3h-3.0zM710.3 1155.0h3.0V1203.2h-3.0zM713.3 1163.9h3.0V1204.8h-3.0zM716.3 1155.0h3.0V1211.2h-3.0zM719.3 1167.8h3.0V1207.7h-3.0zM722.3 1169.2h3.0V1210.9h-3.0zM725.3 1168.8h3.0V1216.0h-3.0zM728.3 1159.4h3.0V1212.9h-3.0zM731.3 1173.4h3.0V1219.4h-3.0zM734.3 1176.7h3.0V1219.8h-3.0zM737.3 1180.0h3.0V1219.9h-3.0zM740.3 1178.6h3.0V1222.3h-3.0zM743.3 1184.3h3.0V1225.3h-3.0zM746.3 1198.8h3.0V1226.0h-3.0zM749.3 1189.8h3.0V1233.9h-3.0zM752.3 1199.8h3.0V1244.3h-3.0zM755.3 1193.4h3.0V1228.1h-3.0zM758.3 1193.9h3.0V1239.5h-3.0zM761.3 1184.4h3.0V1248.7h-3.0zM764.3 1218.5h3.0V1243.9h-3.0zM767.3 1205.7h3.0V1246.6h-3.0zM770.3 1206.7h3.0V1247.8h-3.0zM773.3 1214.2h3.0V1252.4h-3.0zM776.3 1214.6h3.0V1249.7h-3.0zM779.3 1214.5h3.0V1253.3h-3.0zM782.3 1215.5h3.0V1255.8h-3.0zM785.3 1216.9h3.0V1253.6h-3.0zM788.3 1221.0h3.0V1257.5h-3.0zM791.3 1224.2h3.0V1258.6h-3.0zM794.3 1205.1h3.0V1261.0h-3.0zM797.3 1224.9h3.0V1262.0h-3.0zM800.3 1220.0h3.0V1263.5h-3.0zM803.3 1231.5h3.0V1265.6h-3.0zM806.3 1242.4h3.0V1269.7h-3.0zM809.3 1233.5h3.0V1271.7h-3.0zM812.3 1232.6h3.0V1267.2h-3.0zM815.3 1233.6h3.0V1271.8h-3.0zM818.3 1239.5h3.0V1270.2h-3.0zM821.3 1250.9h3.0V1270.9h-3.0zM824.3 1237.0h3.0V1279.7h-3.0zM827.3 1242.4h3.0V1275.1h-3.0zM830.3 1243.9h3.0V1278.0h-3.0zM833.3 1243.8h3.0V1272.6h-3.0zM836.3 1241.9h3.0V1290.1h-3.0zM839.3 1244.9h3.0V1282.1h-3.0zM842.3 1249.5h3.0V1282.5h-3.0zM845.3 1250.7h3.0V1292.6h-3.0zM848.3 1250.8h3.0V1295.1h-3.0zM851.3 1250.9h3.0V1303.9h-3.0zM854.3 1250.0h3.0V1289.9h-3.0zM857.3 1262.5h3.0V1288.5h-3.0zM860.3 1259.6h3.0V1290.7h-3.0zM863.3 1260.6h3.0V1294.9h-3.0zM866.3 1258.1h3.0V1292.6h-3.0zM869.3 1259.2h3.0V1298.5h-3.0zM872.3 1250.5h3.0V1299.7h-3.0zM875.3 1263.2h3.0V1303.2h-3.0zM878.3 1266.2h3.0V1301.8h-3.0zM881.3 1266.4h3.0V1297.9h-3.0zM884.3 1262.4h3.0V1300.7h-3.0zM887.3 1266.6h3.0V1301.1h-3.0zM890.3 1267.5h3.0V1301.7h-3.0zM893.3 1267.7h3.0V1299.2h-3.0zM896.3 1270.3h3.0V1308.1h-3.0zM899.3 1269.4h3.0V1319.5h-3.0zM902.3 1270.6h3.0V1309.3h-3.0zM905.3 1282.5h3.0V1311.1h-3.0zM908.3 1273.7h3.0V1301.5h-3.0zM911.3 1270.2h3.0V1314.0h-3.0zM914.3 1263.3h3.0V1311.9h-3.0zM917.3 1277.8h3.0V1313.7h-3.0zM920.3 1276.5h3.0V1312.4h-3.0zM923.3 1277.0h3.0V1314.9h-3.0zM926.3 1280.6h3.0V1311.9h-3.0zM929.3 1279.2h3.0V1321.1h-3.0zM932.3 1270.6h3.0V1321.6h-3.0zM935.3 1283.0h3.0V1317.9h-3.0zM938.3 1279.1h3.0V1321.7h-3.0zM941.3 1286.6h3.0V1319.0h-3.0zM944.3 1284.0h3.0V1323.0h-3.0zM947.3 1283.2h3.0V1322.1h-3.0zM950.3 1286.0h3.0V1325.5h-3.0zM953.3 1290.2h3.0V1322.0h-3.0zM956.3 1290.2h3.0V1322.7h-3.0zM959.3 1295.5h3.0V1322.1h-3.0zM962.3 1291.7h3.0V1318.7h-3.0zM965.3 1295.3h3.0V1326.6h-3.0zM968.3 1291.8h3.0V1327.6h-3.0zM971.3 1296.3h3.0V1333.0h-3.0zM974.3 1295.1h3.0V1332.6h-3.0zM977.3 1298.2h3.0V1330.1h-3.0zM980.3 1297.5h3.0V1330.4h-3.0zM983.3 1304.1h3.0V1329.6h-3.0zM986.3 1286.9h3.0V1329.8h-3.0zM989.3 1301.1h3.0V1334.0h-3.0zM992.3 1306.4h3.0V1337.9h-3.0zM995.3 1306.5h3.0V1337.7h-3.0zM998.3 1308.0h3.0V1333.6h-3.0zM1001.3 1309.4h3.0V1339.2h-3.0zM1004.3 1310.5h3.0V1340.0h-3.0zM1007.3 1309.3h3.0V1339.5h-3.0zM1010.3 1314.2h3.0V1345.1h-3.0zM1013.3 1313.6h3.0V1345.2h-3.0zM1016.3 1314.4h3.0V1346.8h-3.0zM1019.3 1319.8h3.0V1346.6h-3.0zM1022.3 1319.1h3.0V1347.9h-3.0zM1025.3 1320.1h3.0V1345.0h-3.0zM1028.3 1323.9h3.0V1348.1h-3.0zM1031.3 1322.9h3.0V1344.4h-3.0zM1034.3 1321.8h3.0V1351.8h-3.0zM1037.3 1327.5h3.0V1351.2h-3.0zM1040.3 1333.0h3.0V1353.6h-3.0zM1043.3 1318.6h3.0V1352.8h-3.0zM1046.3 1330.6h3.0V1355.2h-3.0zM1049.3 1330.4h3.0V1347.4h-3.0zM1052.3 1333.8h3.0V1358.1h-3.0zM1055.3 1333.1h3.0V1358.0h-3.0zM1058.3 1335.0h3.0V1362.2h-3.0zM1061.3 1336.7h3.0V1359.9h-3.0zM1064.3 1337.8h3.0V1363.4h-3.0zM1067.3 1339.7h3.0V1365.3h-3.0zM1070.3 1341.4h3.0V1366.6h-3.0zM1073.3 1341.6h3.0V1364.9h-3.0zM1076.3 1341.6h3.0V1378.8h-3.0zM1079.3 1343.2h3.0V1370.0h-3.0zM1082.3 1343.7h3.0V1371.1h-3.0zM1085.3 1343.2h3.0V1374.8h-3.0zM1088.3 1333.1h3.0V1372.3h-3.0zM1091.3 1334.3h3.0V1370.6h-3.0zM1094.3 1348.8h3.0V1372.9h-3.0zM1097.3 1346.5h3.0V1378.8h-3.0zM1100.3 1348.7h3.0V1376.9h-3.0zM1103.3 1351.5h3.0V1378.4h-3.0zM1106.3 1353.3h3.0V1384.8h-3.0zM1109.3 1346.8h3.0V1370.8h-3.0zM1112.3 1345.3h3.0V1379.1h-3.0zM1115.3 1356.4h3.0V1378.9h-3.0zM1118.3 1356.1h3.0V1375.0h-3.0zM1121.3 1356.2h3.0V1381.4h-3.0zM1124.3 1356.7h3.0V1380.3h-3.0zM1127.3 1357.9h3.0V1381.5h-3.0zM1130.3 1359.6h3.0V1382.6h-3.0zM1133.3 1355.0h3.0V1381.2h-3.0zM1136.3 1358.4h3.0V1385.4h-3.0zM1139.3 1358.8h3.0V1378.7h-3.0zM1142.3 1363.7h3.0V1382.0h-3.0zM1145.3 1358.5h3.0V1384.3h-3.0zM1148.3 1359.8h3.0V1390.7h-3.0zM1151.3 1352.4h3.0V1384.6h-3.0zM1154.3 1361.2h3.0V1385.2h-3.0zM1157.3 1351.2h3.0V1386.5h-3.0zM1160.3 1360.2h3.0V1382.0h-3.0zM1163.3 1362.7h3.0V1389.0h-3.0zM1166.3 1349.9h3.0V1387.6h-3.0zM1169.3 1362.8h3.0V1389.2h-3.0zM1172.3 1364.3h3.0V1386.7h-3.0zM1175.3 1356.4h3.0V1386.6h-3.0zM1178.3 1367.2h3.0V1386.9h-3.0zM1181.3 1344.3h3.0V1388.0h-3.0zM1184.3 1363.7h3.0V1390.0h-3.0zM1187.3 1363.1h3.0V1388.8h-3.0zM1190.3 1364.1h3.0V1389.7h-3.0zM1193.3 1361.0h3.0V1390.9h-3.0zM1196.3 1361.4h3.0V1389.1h-3.0zM1199.3 1364.5h3.0V1390.8h-3.0zM1202.3 1366.7h3.0V1394.3h-3.0zM1205.3 1355.4h3.0V1391.3h-3.0zM1208.3 1368.3h3.0V1392.5h-3.0zM1211.3 1368.5h3.0V1393.7h-3.0zM1214.3 1368.2h3.0V1393.9h-3.0zM1217.3 1364.4h3.0V1395.1h-3.0zM1220.3 1369.2h3.0V1394.3h-3.0zM1223.3 1363.9h3.0V1394.3h-3.0zM1226.3 1372.2h3.0V1392.5h-3.0zM1229.3 1369.4h3.0V1394.2h-3.0zM1232.3 1367.9h3.0V1395.9h-3.0zM1235.3 1369.9h3.0V1394.5h-3.0zM1238.3 1367.8h3.0V1400.0h-3.0zM1241.3 1371.5h3.0V1395.6h-3.0zM1244.3 1367.2h3.0V1396.8h-3.0zM1247.3 1368.3h3.0V1404.9h-3.0zM1250.3 1376.9h3.0V1398.6h-3.0zM1253.3 1370.4h3.0V1395.4h-3.0zM1256.3 1367.9h3.0V1392.6h-3.0zM1259.3 1374.2h3.0V1396.6h-3.0zM1262.3 1372.3h3.0V1398.8h-3.0zM1265.3 1373.6h3.0V1393.5h-3.0zM1268.3 1370.4h3.0V1398.6h-3.0zM1271.3 1371.5h3.0V1395.7h-3.0zM1274.3 1373.8h3.0V1404.0h-3.0zM1277.3 1374.0h3.0V1397.7h-3.0zM1280.3 1372.3h3.0V1394.2h-3.0zM1283.3 1372.7h3.0V1401.7h-3.0zM1286.3 1374.9h3.0V1398.5h-3.0zM1289.3 1368.0h3.0V1400.2h-3.0zM1292.3 1375.0h3.0V1400.9h-3.0zM1295.3 1373.4h3.0V1399.7h-3.0zM1298.3 1375.8h3.0V1399.6h-3.0zM1301.3 1370.8h3.0V1399.8h-3.0zM1304.3 1376.6h3.0V1407.7h-3.0zM1307.3 1375.0h3.0V1402.6h-3.0zM1310.3 1376.2h3.0V1401.2h-3.0zM1313.3 1377.9h3.0V1405.2h-3.0zM1316.3 1374.7h3.0V1401.3h-3.0zM1319.3 1378.4h3.0V1400.2h-3.0zM1322.3 1371.1h3.0V1396.0h-3.0zM1325.3 1377.7h3.0V1415.4h-3.0zM1328.3 1378.6h3.0V1403.7h-3.0zM1331.3 1379.3h3.0V1405.6h-3.0zM1334.3 1378.0h3.0V1404.3h-3.0zM1337.3 1378.6h3.0V1405.2h-3.0zM1340.3 1377.8h3.0V1405.8h-3.0zM1343.3 1377.7h3.0V1408.4h-3.0zM1346.3 1381.6h3.0V1403.9h-3.0zM1349.3 1382.4h3.0V1406.5h-3.0zM1352.3 1379.3h3.0V1407.8h-3.0zM1355.3 1383.6h3.0V1406.1h-3.0zM1358.3 1383.2h3.0V1414.5h-3.0zM1361.3 1379.6h3.0V1406.6h-3.0zM1364.3 1376.2h3.0V1407.9h-3.0zM1367.3 1376.1h3.0V1408.4h-3.0zM1370.3 1382.2h3.0V1410.4h-3.0zM1373.3 1383.0h3.0V1409.9h-3.0zM1376.3 1383.2h3.0V1410.3h-3.0zM1379.3 1383.3h3.0V1411.0h-3.0zM1382.3 1387.3h3.0V1414.4h-3.0zM1385.3 1385.3h3.0V1414.1h-3.0zM1388.3 1386.8h3.0V1409.8h-3.0zM1391.3 1390.6h3.0V1412.7h-3.0zM1394.3 1384.2h3.0V1408.9h-3.0zM1397.3 1385.7h3.0V1414.7h-3.0zM1400.3 1385.7h3.0V1421.2h-3.0zM1403.3 1386.4h3.0V1413.3h-3.0zM1406.3 1385.4h3.0V1414.6h-3.0zM1409.3 1371.9h3.0V1432.5h-3.0zM1412.3 1390.9h3.0V1414.4h-3.0zM1415.3 1375.2h3.0V1415.3h-3.0zM1418.3 1391.9h3.0V1411.6h-3.0zM1421.3 1369.1h3.0V1414.7h-3.0zM1424.3 1387.7h3.0V1414.2h-3.0zM1427.3 1381.6h3.0V1416.7h-3.0zM1430.3 1390.0h3.0V1415.7h-3.0zM1433.3 1390.5h3.0V1416.6h-3.0zM1436.3 1385.9h3.0V1422.0h-3.0zM1439.3 1390.3h3.0V1420.1h-3.0zM1442.3 1387.3h3.0V1415.0h-3.0zM1445.3 1389.3h3.0V1418.6h-3.0zM1448.3 1393.5h3.0V1419.5h-3.0zM1451.3 1393.6h3.0V1418.0h-3.0zM1454.3 1394.6h3.0V1417.2h-3.0zM1457.3 1391.5h3.0V1419.2h-3.0zM1460.3 1393.5h3.0V1418.8h-3.0zM1463.3 1393.1h3.0V1421.9h-3.0zM1466.3 1400.0h3.0V1419.1h-3.0zM1469.3 1392.1h3.0V1423.2h-3.0zM1472.3 1394.0h3.0V1418.8h-3.0zM1475.3 1393.7h3.0V1421.1h-3.0zM1478.3 1393.9h3.0V1420.2h-3.0zM1481.3 1380.1h3.0V1419.8h-3.0zM1484.3 1397.3h3.0V1423.3h-3.0zM1487.3 1393.3h3.0V1415.8h-3.0zM1490.3 1394.2h3.0V1423.6h-3.0zM1493.3 1396.9h3.0V1425.0h-3.0zM1496.3 1395.8h3.0V1422.6h-3.0zM1499.3 1395.6h3.0V1423.4h-3.0zM1502.3 1398.4h3.0V1414.5h-3.0zM1505.3 1398.9h3.0V1423.8h-3.0zM1508.3 1397.4h3.0V1422.6h-3.0zM1511.3 1397.7h3.0V1426.5h-3.0zM1514.3 1396.1h3.0V1424.2h-3.0zM1517.3 1398.6h3.0V1423.7h-3.0zM1520.3 1398.9h3.0V1424.3h-3.0zM1523.3 1389.2h3.0V1427.2h-3.0zM1526.3 1398.4h3.0V1427.5h-3.0zM1529.3 1396.8h3.0V1427.4h-3.0zM1532.3 1398.7h3.0V1442.0h-3.0zM1535.3 1398.9h3.0V1433.4h-3.0zM1538.3 1399.1h3.0V1427.6h-3.0zM1541.3 1391.8h3.0V1425.9h-3.0zM1544.3 1399.9h3.0V1427.2h-3.0zM1547.3 1401.4h3.0V1421.6h-3.0zM1550.3 1399.6h3.0V1428.6h-3.0zM1553.3 1400.9h3.0V1439.6h-3.0zM1556.3 1402.9h3.0V1442.7h-3.0zM1559.3 1402.1h3.0V1428.6h-3.0zM1562.3 1403.4h3.0V1430.7h-3.0zM1565.3 1388.2h3.0V1429.1h-3.0zM1568.3 1399.3h3.0V1451.6h-3.0zM1571.3 1404.4h3.0V1429.9h-3.0zM1574.3 1405.6h3.0V1441.6h-3.0zM1577.3 1403.8h3.0V1430.4h-3.0zM1580.3 1403.5h3.0V1429.1h-3.0zM1583.3 1403.9h3.0V1432.7h-3.0zM1586.3 1402.7h3.0V1432.1h-3.0zM1589.3 1405.0h3.0V1433.5h-3.0zM1592.3 1385.1h3.0V1433.8h-3.0zM1595.3 1404.2h3.0V1431.8h-3.0zM1598.3 1404.1h3.0V1433.3h-3.0zM1601.3 1407.6h3.0V1431.2h-3.0zM1604.3 1402.6h3.0V1433.6h-3.0zM1607.3 1396.8h3.0V1432.5h-3.0zM1610.3 1400.8h3.0V1428.8h-3.0zM1613.3 1409.2h3.0V1433.4h-3.0zM1616.3 1407.6h3.0V1432.4h-3.0zM1619.3 1406.9h3.0V1430.5h-3.0zM1622.3 1407.4h3.0V1438.4h-3.0zM1625.3 1408.7h3.0V1450.1h-3.0zM1628.3 1407.6h3.0V1435.7h-3.0zM1631.3 1408.8h3.0V1434.2h-3.0zM1634.3 1414.7h3.0V1436.2h-3.0zM1637.3 1409.4h3.0V1436.4h-3.0zM1640.3 1412.5h3.0V1435.5h-3.0zM1643.3 1411.0h3.0V1436.0h-3.0zM1646.3 1411.4h3.0V1435.7h-3.0zM1649.3 1418.0h3.0V1438.3h-3.0zM1652.3 1413.5h3.0V1439.6h-3.0zM1655.3 1408.6h3.0V1438.2h-3.0zM1658.3 1413.4h3.0V1437.9h-3.0zM1661.3 1414.0h3.0V1439.2h-3.0zM1664.3 1417.8h3.0V1436.4h-3.0zM1667.3 1412.1h3.0V1438.1h-3.0zM1670.3 1413.3h3.0V1438.1h-3.0zM1673.3 1413.1h3.0V1437.2h-3.0zM1676.3 1412.6h3.0V1438.7h-3.0zM1679.3 1411.5h3.0V1431.7h-3.0zM1682.3 1416.4h3.0V1440.3h-3.0zM1685.3 1414.4h3.0V1440.6h-3.0zM1688.3 1415.8h3.0V1440.6h-3.0zM1691.3 1414.2h3.0V1439.4h-3.0zM1694.3 1416.4h3.0V1442.9h-3.0zM1697.3 1423.8h3.0V1436.1h-3.0zM1700.3 1415.0h3.0V1440.2h-3.0zM1703.3 1417.1h3.0V1441.8h-3.0zM1706.3 1417.7h3.0V1443.4h-3.0zM1709.3 1417.3h3.0V1440.8h-3.0zM1712.3 1416.0h3.0V1441.9h-3.0zM1715.3 1419.3h3.0V1441.2h-3.0zM1718.3 1417.7h3.0V1445.2h-3.0zM1721.3 1412.2h3.0V1441.8h-3.0zM1724.3 1415.8h3.0V1442.9h-3.0zM1727.3 1417.5h3.0V1440.6h-3.0zM1730.3 1417.7h3.0V1444.0h-3.0zM1733.3 1420.6h3.0V1440.5h-3.0zM1736.3 1423.6h3.0V1443.9h-3.0zM1739.3 1418.3h3.0V1445.7h-3.0zM1742.3 1418.2h3.0V1443.1h-3.0zM1745.3 1417.4h3.0V1446.2h-3.0zM1748.3 1417.5h3.0V1444.5h-3.0zM1751.3 1421.2h3.0V1444.8h-3.0zM1754.3 1422.3h3.0V1452.4h-3.0zM1757.3 1419.9h3.0V1445.2h-3.0zM1760.3 1418.8h3.0V1445.9h-3.0zM1763.3 1413.3h3.0V1444.6h-3.0zM1766.3 1421.8h3.0V1446.3h-3.0zM1769.3 1409.3h3.0V1444.1h-3.0zM1772.3 1421.9h3.0V1440.9h-3.0zM1775.3 1428.0h3.0V1445.9h-3.0zM1778.3 1422.7h3.0V1447.9h-3.0zM1781.3 1419.6h3.0V1447.7h-3.0zM1784.3 1413.5h3.0V1449.0h-3.0zM1787.3 1422.6h3.0V1455.5h-3.0zM1790.3 1422.1h3.0V1448.2h-3.0zM1793.3 1422.3h3.0V1446.6h-3.0zM1796.3 1424.2h3.0V1439.9h-3.0zM1799.3 1429.6h3.0V1445.9h-3.0zM1802.3 1424.0h3.0V1450.2h-3.0zM1805.3 1422.0h3.0V1450.0h-3.0zM1808.3 1419.2h3.0V1449.5h-3.0zM1811.3 1421.3h3.0V1446.3h-3.0zM1814.3 1415.7h3.0V1447.0h-3.0zM1817.3 1427.7h3.0V1447.7h-3.0zM1820.3 1426.5h3.0V1448.0h-3.0zM1823.3 1426.2h3.0V1449.2h-3.0zM1826.3 1424.4h3.0V1448.5h-3.0zM1829.3 1427.5h3.0V1448.9h-3.0zM1832.3 1418.2h3.0V1448.3h-3.0zM1835.3 1426.2h3.0V1448.6h-3.0zM1838.3 1430.0h3.0V1448.2h-3.0zM1841.3 1426.3h3.0V1451.2h-3.0zM1844.3 1426.3h3.0V1450.8h-3.0zM1847.3 1424.3h3.0V1452.4h-3.0zM1850.3 1428.4h3.0V1449.9h-3.0zM1853.3 1431.1h3.0V1449.6h-3.0zM1856.3 1428.8h3.0V1443.5h-3.0zM1859.3 1428.3h3.0V1449.3h-3.0zM1862.3 1423.9h3.0V1451.9h-3.0zM1865.3 1428.0h3.0V1452.3h-3.0zM1868.3 1428.7h3.0V1446.7h-3.0zM1871.3 1427.2h3.0V1451.2h-3.0zM1874.3 1418.1h3.0V1453.9h-3.0zM1877.3 1428.1h3.0V1455.2h-3.0zM1880.3 1433.1h3.0V1456.0h-3.0zM1883.3 1432.3h3.0V1455.6h-3.0zM1886.3 1431.1h3.0V1454.3h-3.0zM1889.3 1432.7h3.0V1454.5h-3.0zM1892.3 1432.8h3.0V1455.1h-3.0zM1895.3 1433.4h3.0V1455.5h-3.0zM1898.3 1432.7h3.0V1456.3h-3.0zM1901.3 1433.1h3.0V1456.2h-3.0zM1904.3 1431.8h3.0V1456.8h-3.0zM1907.3 1433.2h3.0V1455.0h-3.0zM1910.3 1435.4h3.0V1454.1h-3.0zM1913.3 1432.8h3.0V1456.7h-3.0zM1916.3 1433.5h3.0V1455.6h-3.0zM1919.3 1431.6h3.0V1456.4h-3.0zM1922.3 1432.7h3.0V1456.4h-3.0zM1925.3 1435.5h3.0V1456.4h-3.0zM1928.3 1436.9h3.0V1459.1h-3.0zM1931.3 1433.6h3.0V1456.4h-3.0zM1934.3 1434.6h3.0V1468.5h-3.0zM1937.3 1433.7h3.0V1465.7h-3.0zM1940.3 1435.8h3.0V1455.9h-3.0zM1943.3 1433.5h3.0V1454.5h-3.0zM1946.3 1433.1h3.0V1456.2h-3.0zM1949.3 1440.7h3.0V1459.1h-3.0zM1952.3 1436.1h3.0V1455.2h-3.0zM1955.3 1433.4h3.0V1457.0h-3.0zM1958.3 1437.3h3.0V1459.5h-3.0zM1961.3 1433.8h3.0V1458.1h-3.0zM1964.3 1439.8h3.0V1457.8h-3.0zM1967.3 1435.2h3.0V1458.3h-3.0zM1970.3 1434.7h3.0V1459.0h-3.0zM1973.3 1436.7h3.0V1460.5h-3.0zM1976.3 1434.7h3.0V1460.0h-3.0zM1979.3 1436.4h3.0V1458.5h-3.0zM1982.3 1435.6h3.0V1458.4h-3.0zM1985.3 1437.8h3.0V1453.5h-3.0zM1988.3 1442.9h3.0V1458.4h-3.0zM1991.3 1438.8h3.0V1460.6h-3.0zM1994.3 1438.3h3.0V1459.1h-3.0zM1997.3 1438.5h3.0V1460.4h-3.0zM2000.3 1437.8h3.0V1460.2h-3.0zM2003.3 1438.4h3.0V1459.3h-3.0zM2006.3 1436.7h3.0V1455.3h-3.0zM2009.3 1437.6h3.0V1459.9h-3.0zM2012.3 1438.1h3.0V1458.8h-3.0zM2015.3 1439.0h3.0V1466.7h-3.0zM2018.3 1437.6h3.0V1460.2h-3.0zM2021.3 1440.8h3.0V1460.7h-3.0zM2024.3 1438.6h3.0V1457.5h-3.0zM2027.3 1438.1h3.0V1459.8h-3.0zM2030.3 1438.5h3.0V1459.8h-3.0zM2033.3 1437.8h3.0V1461.4h-3.0zM2036.3 1438.6h3.0V1459.9h-3.0zM2039.3 1439.1h3.0V1458.7h-3.0zM2042.3 1437.7h3.0V1459.5h-3.0zM2045.3 1432.9h3.0V1460.2h-3.0zM2048.3 1442.6h3.0V1458.6h-3.0zM2051.3 1437.9h3.0V1458.8h-3.0zM2054.3 1441.1h3.0V1459.5h-3.0zM2057.3 1436.1h3.0V1462.0h-3.0zM2060.3 1438.5h3.0V1469.2h-3.0zM2063.3 1440.0h3.0V1457.5h-3.0zM2066.3 1434.6h3.0V1460.6h-3.0zM2069.3 1438.2h3.0V1460.9h-3.0zM2072.3 1439.9h3.0V1462.7h-3.0zM2075.3 1444.0h3.0V1460.1h-3.0zM2078.3 1440.2h3.0V1460.9h-3.0zM2081.3 1439.6h3.0V1460.0h-3.0zM2084.3 1440.9h3.0V1462.7h-3.0zM2087.3 1440.5h3.0V1460.0h-3.0zM2090.3 1439.5h3.0V1461.5h-3.0zM2093.3 1443.4h3.0V1461.3h-3.0zM2096.3 1441.1h3.0V1461.5h-3.0zM2099.3 1441.2h3.0V1460.2h-3.0zM2102.3 1439.4h3.0V1461.6h-3.0zM2105.3 1431.7h3.0V1462.0h-3.0zM2108.3 1440.9h3.0V1460.8h-3.0zM2111.3 1441.9h3.0V1459.2h-3.0zM2114.3 1439.6h3.0V1468.8h-3.0zM2117.3 1440.3h3.0V1460.8h-3.0zM2120.3 1444.3h3.0V1462.0h-3.0zM2123.3 1443.1h3.0V1456.3h-3.0zM2126.3 1443.5h3.0V1457.3h-3.0zM2129.3 1442.6h3.0V1461.0h-3.0zM2132.3 1442.8h3.0V1461.2h-3.0zM2135.3 1441.9h3.0V1462.2h-3.0zM2138.3 1443.7h3.0V1465.3h-3.0zM2141.3 1432.9h3.0V1463.4h-3.0zM2144.3 1442.3h3.0V1470.2h-3.0zM2147.3 1445.2h3.0V1463.0h-3.0zM2150.3 1439.9h3.0V1462.1h-3.0zM2153.3 1433.7h3.0V1462.9h-3.0zM2156.3 1441.8h3.0V1463.4h-3.0zM2159.3 1441.5h3.0V1463.4h-3.0zM2162.3 1441.1h3.0V1464.1h-3.0zM2165.3 1443.7h3.0V1464.9h-3.0zM2168.3 1442.8h3.0V1461.9h-3.0zM2171.3 1442.9h3.0V1463.0h-3.0zM2174.3 1447.0h3.0V1463.8h-3.0zM2177.3 1443.9h3.0V1462.4h-3.0zM2180.3 1432.8h3.0V1464.3h-3.0zM2183.3 1441.5h3.0V1472.7h-3.0zM2186.3 1435.5h3.0V1465.8h-3.0zM2189.3 1443.7h3.0V1463.1h-3.0zM2192.3 1444.4h3.0V1464.8h-3.0zM2195.3 1444.4h2.7V1462.9h-2.7z"/>
</g>
<g class="t" font-size="65" text-anchor="middle" fill="#000"><text x="276.9" y="1613">10</text><text x="490.1" y="1613">20</text><text x="703.2" y="1613">30</text><text x="916.4" y="1613">40</text><text x="1129.6" y="1613">50</text><text x="1342.8" y="1613">60</text><text x="1556.0" y="1613">70</text><text x="1769.1" y="1613">80</text><text x="1982.3" y="1613">90</text><text x="2195.5" y="1613">100</text></g>
<g class="t" fill="#000"><text x="886.7" y="1725.2" font-size="84" font-weight="bold">2</text><text transform="translate(932.2,1725.2) scale(1.12,1)" font-size="71">θ</text><text x="1000.9" y="1725.2" font-size="83" font-weight="bold">(degrees)</text></g>
<text class="t" transform="translate(87,940) rotate(-90) scale(1,1.065)" font-size="87" font-weight="bold">Intensity (a.u)</text>
<g class="t" font-size="84" font-weight="bold">
<text x="1717.5" y="171.5" fill="#000">SNa0-am1</text>
<text x="1717.5" y="281.3" fill="#f00">SNa0-am2</text>
<text x="1717.5" y="387" fill="#00f">SNa0-am3</text>
</g>
</svg>
</body></html>
